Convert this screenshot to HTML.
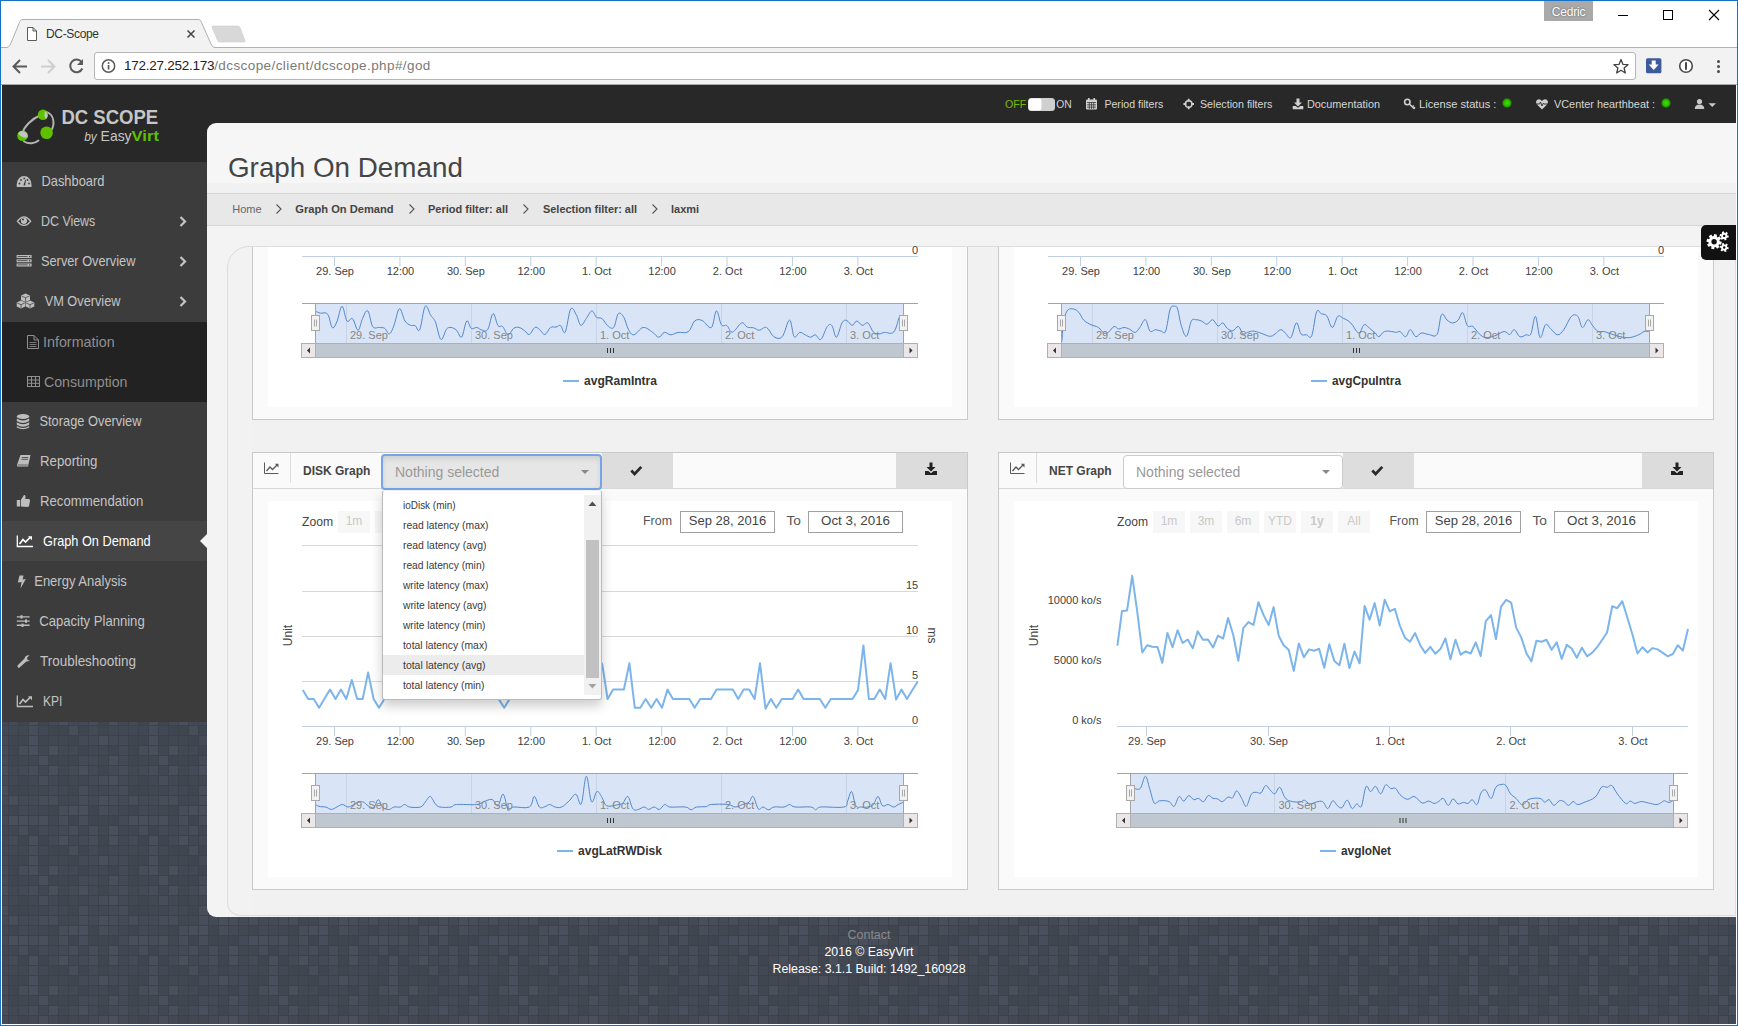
<!DOCTYPE html>
<html>
<head>
<meta charset="utf-8">
<title>DC-Scope</title>
<style>
*{box-sizing:border-box;margin:0;padding:0}
html,body{width:1738px;height:1026px;overflow:hidden;background:#fff;font-family:"Liberation Sans",sans-serif;}
body{position:relative}
.abs,.abs>*{position:absolute}
svg{position:absolute;overflow:visible}
/* ---------- browser chrome ---------- */
#toolbar{position:absolute;left:1px;top:48px;width:1736px;height:37px;background:#f2f2f2;border-bottom:1px solid #a9a9a9}
#tabline{position:absolute;left:1px;top:47px;width:1736px;height:1px;background:#b2b2b2}
#urlbox{position:absolute;left:94px;top:52px;width:1542px;height:28px;background:#fff;border:1px solid #b5b5b5;border-radius:3px}
#urltext{position:absolute;left:124px;top:57px;font-size:13.5px;line-height:18px;color:#222;white-space:nowrap;letter-spacing:-.26px}
#urltext span{color:#7a7a7a;letter-spacing:.41px}
#tabtitle{position:absolute;left:46px;top:26px;letter-spacing:-.33px;font-size:12px;line-height:16px;color:#333;white-space:nowrap}
#cedric{position:absolute;left:1544px;top:1px;width:49px;height:20px;background:#a9a9a9;color:#fff;font-size:12px;line-height:22px;letter-spacing:-.2px;text-align:center;text-shadow:0 0 2px #555}
/* ---------- page ---------- */
#page{position:absolute;left:2px;top:85px;width:1734px;height:939px;overflow:hidden;background:#434a56}
</style>
</head>
<body>
<!-- CHROME -->
<div id="tabline"></div>
<div id="toolbar"></div>
<div id="urlbox"></div>
<svg id="chromesvg" width="1738" height="90" style="left:0;top:0">
 <!-- tab -->
 <path d="M1 47.5 L6.5 47.5 C8.5 47.5 9.5 46 10.5 44 L19.5 22.5 C20 20.5 21 19.5 23 19.5 L198 19.5 C200 19.5 201 20.5 201.5 22.5 L211 44 C212 46 213 47.5 215 47.5 L215 48.5 L1 48.5 Z" fill="#f2f2f2" stroke="none"/>
 <path d="M1 47.5 L6.5 47.5 C8.5 47.5 9.5 46 10.5 44 L19.5 22.5 C20 20.5 21 19.5 23 19.5 L198 19.5 C200 19.5 201 20.5 201.5 22.5 L211 44 C212 46 213 47.5 215 47.5" fill="none" stroke="#b0b0b0" stroke-width="1"/>
 <!-- new tab -->
 <path d="M213 26 L238 26 Q239.5 26 240 27.5 L245 40.5 Q245.5 42 244 42 L219.500 42 Q218 42 217.500 40.500 L212 27.500 Q211.500 26 213 26 Z" fill="#d8d8d8" stroke="#cfcfcf" stroke-width=".6"/>
 <!-- page icon -->
 <path d="M27.5 27.5 L33 27.5 L36.500 31 L36.500 40.500 L27.500 40.500 Z M33 27.500 L33 31 L36.500 31" fill="#fff" stroke="#5a5a5a" stroke-width="1"/>
 <!-- tab close -->
 <path d="M187.500 30.500 L194.500 37.500 M194.500 30.500 L187.500 37.500" stroke="#444" stroke-width="1.500" fill="none"/>
 <!-- window controls -->
 <path d="M1618 15.500 L1628 15.500" stroke="#000" stroke-width="1"/>
 <rect x="1663.500" y="10.500" width="9" height="9" fill="none" stroke="#000" stroke-width="1"/>
 <path d="M1709 10 L1719 20 M1719 10 L1709 20" stroke="#000" stroke-width="1.100"/>
 <!-- back -->
 <path d="M27 66.500 L14 66.500 M20 60 L13.500 66.500 L20 73" stroke="#5a5a5a" stroke-width="2" fill="none"/>
 <!-- forward -->
 <path d="M41 66.500 L54 66.500 M48 60 L54.500 66.500 L48 73" stroke="#cfcfcf" stroke-width="2" fill="none"/>
 <!-- reload -->
 <path d="M81.500 62 A6.300 6.300 0 1 0 82.300 68.500" stroke="#5a5a5a" stroke-width="2" fill="none"/>
 <path d="M83 59 L83 65 L77 65 Z" fill="#5a5a5a"/>
 <!-- info -->
 <circle cx="108.500" cy="66" r="6.200" fill="none" stroke="#5a5a5a" stroke-width="1.500"/>
 <rect x="107.700" y="65" width="1.700" height="4.500" fill="#5a5a5a"/><rect x="107.700" y="62.200" width="1.700" height="1.700" fill="#5a5a5a"/>
 <!-- star -->
 <path d="M1621 59.500 L1622.900 64.300 L1628 64.700 L1624.100 68 L1625.300 73 L1621 70.300 L1616.700 73 L1617.900 68 L1614 64.700 L1619.100 64.300 Z" fill="none" stroke="#444" stroke-width="1.300" stroke-linejoin="round"/>
 <!-- download ext -->
 <rect x="1646" y="58.300" width="15.400" height="15" rx="1.500" fill="#3d5a9a"/>
 <path d="M1651.700 60.500 L1655.700 60.500 L1655.700 64.500 L1658.700 64.500 L1653.700 70 L1648.700 64.500 L1651.700 64.500 Z" fill="#fff"/>
 <!-- 1password-ish -->
 <circle cx="1686" cy="66" r="6.300" fill="#fff" stroke="#4a4a4a" stroke-width="1.600"/>
 <rect x="1685" y="62" width="2" height="8" rx="1" fill="#4a4a4a"/>
 <!-- menu dots -->
 <circle cx="1718.500" cy="61.500" r="1.500" fill="#4a4a4a"/><circle cx="1718.500" cy="66.500" r="1.500" fill="#4a4a4a"/><circle cx="1718.500" cy="71.500" r="1.500" fill="#4a4a4a"/>
</svg>
<div id="urltext">172.27.252.173<span>/dcscope/client/dcscope.php#/god</span></div>
<div id="tabtitle">DC-Scope</div>
<div id="cedric">Cedric</div>

<!-- PAGE -->
<div id="page"><svg width="1734" height="939" style="left:0;top:0"><defs><pattern id="tl" width="120" height="120" patternUnits="userSpaceOnUse" x="-4" y="-10"><rect width="120" height="120" fill="#3c424c"/><rect x="1" y="1" width="9" height="9" fill="#454b56"/><rect x="11" y="1" width="9" height="9" fill="#474d59"/><rect x="21" y="1" width="9" height="9" fill="#454b56"/><rect x="31" y="1" width="9" height="9" fill="#454b56"/><rect x="41" y="1" width="9" height="9" fill="#474d59"/><rect x="51" y="1" width="9" height="9" fill="#474d59"/><rect x="61" y="1" width="9" height="9" fill="#424852"/><rect x="71" y="1" width="9" height="9" fill="#424852"/><rect x="81" y="1" width="9" height="9" fill="#474d59"/><rect x="91" y="1" width="9" height="9" fill="#454b56"/><rect x="101" y="1" width="9" height="9" fill="#494f5b"/><rect x="111" y="1" width="9" height="9" fill="#474d59"/><rect x="1" y="11" width="9" height="9" fill="#424852"/><rect x="11" y="11" width="9" height="9" fill="#40464f"/><rect x="21" y="11" width="9" height="9" fill="#454b56"/><rect x="31" y="11" width="9" height="9" fill="#434954"/><rect x="41" y="11" width="9" height="9" fill="#424852"/><rect x="51" y="11" width="9" height="9" fill="#40464f"/><rect x="61" y="11" width="9" height="9" fill="#474d59"/><rect x="71" y="11" width="9" height="9" fill="#494f5b"/><rect x="81" y="11" width="9" height="9" fill="#494f5b"/><rect x="91" y="11" width="9" height="9" fill="#40464f"/><rect x="101" y="11" width="9" height="9" fill="#474d59"/><rect x="111" y="11" width="9" height="9" fill="#454b56"/><rect x="1" y="21" width="9" height="9" fill="#454b56"/><rect x="11" y="21" width="9" height="9" fill="#494f5b"/><rect x="21" y="21" width="9" height="9" fill="#494f5b"/><rect x="31" y="21" width="9" height="9" fill="#474d59"/><rect x="41" y="21" width="9" height="9" fill="#494f5b"/><rect x="51" y="21" width="9" height="9" fill="#424852"/><rect x="61" y="21" width="9" height="9" fill="#474d59"/><rect x="71" y="21" width="9" height="9" fill="#40464f"/><rect x="81" y="21" width="9" height="9" fill="#474d59"/><rect x="91" y="21" width="9" height="9" fill="#40464f"/><rect x="101" y="21" width="9" height="9" fill="#40464f"/><rect x="111" y="21" width="9" height="9" fill="#40464f"/><rect x="1" y="31" width="9" height="9" fill="#424852"/><rect x="11" y="31" width="9" height="9" fill="#424852"/><rect x="21" y="31" width="9" height="9" fill="#474d59"/><rect x="31" y="31" width="9" height="9" fill="#40464f"/><rect x="41" y="31" width="9" height="9" fill="#454b56"/><rect x="51" y="31" width="9" height="9" fill="#434954"/><rect x="61" y="31" width="9" height="9" fill="#454b56"/><rect x="71" y="31" width="9" height="9" fill="#474d59"/><rect x="81" y="31" width="9" height="9" fill="#424852"/><rect x="91" y="31" width="9" height="9" fill="#474d59"/><rect x="101" y="31" width="9" height="9" fill="#424852"/><rect x="111" y="31" width="9" height="9" fill="#494f5b"/><rect x="1" y="41" width="9" height="9" fill="#434954"/><rect x="11" y="41" width="9" height="9" fill="#454b56"/><rect x="21" y="41" width="9" height="9" fill="#40464f"/><rect x="31" y="41" width="9" height="9" fill="#494f5b"/><rect x="41" y="41" width="9" height="9" fill="#40464f"/><rect x="51" y="41" width="9" height="9" fill="#454b56"/><rect x="61" y="41" width="9" height="9" fill="#494f5b"/><rect x="71" y="41" width="9" height="9" fill="#434954"/><rect x="81" y="41" width="9" height="9" fill="#454b56"/><rect x="91" y="41" width="9" height="9" fill="#474d59"/><rect x="101" y="41" width="9" height="9" fill="#40464f"/><rect x="111" y="41" width="9" height="9" fill="#494f5b"/><rect x="1" y="51" width="9" height="9" fill="#434954"/><rect x="11" y="51" width="9" height="9" fill="#434954"/><rect x="21" y="51" width="9" height="9" fill="#424852"/><rect x="31" y="51" width="9" height="9" fill="#474d59"/><rect x="41" y="51" width="9" height="9" fill="#434954"/><rect x="51" y="51" width="9" height="9" fill="#40464f"/><rect x="61" y="51" width="9" height="9" fill="#40464f"/><rect x="71" y="51" width="9" height="9" fill="#474d59"/><rect x="81" y="51" width="9" height="9" fill="#40464f"/><rect x="91" y="51" width="9" height="9" fill="#454b56"/><rect x="101" y="51" width="9" height="9" fill="#40464f"/><rect x="111" y="51" width="9" height="9" fill="#434954"/><rect x="1" y="61" width="9" height="9" fill="#454b56"/><rect x="11" y="61" width="9" height="9" fill="#40464f"/><rect x="21" y="61" width="9" height="9" fill="#40464f"/><rect x="31" y="61" width="9" height="9" fill="#494f5b"/><rect x="41" y="61" width="9" height="9" fill="#40464f"/><rect x="51" y="61" width="9" height="9" fill="#424852"/><rect x="61" y="61" width="9" height="9" fill="#424852"/><rect x="71" y="61" width="9" height="9" fill="#40464f"/><rect x="81" y="61" width="9" height="9" fill="#454b56"/><rect x="91" y="61" width="9" height="9" fill="#454b56"/><rect x="101" y="61" width="9" height="9" fill="#494f5b"/><rect x="111" y="61" width="9" height="9" fill="#454b56"/><rect x="1" y="71" width="9" height="9" fill="#454b56"/><rect x="11" y="71" width="9" height="9" fill="#40464f"/><rect x="21" y="71" width="9" height="9" fill="#474d59"/><rect x="31" y="71" width="9" height="9" fill="#494f5b"/><rect x="41" y="71" width="9" height="9" fill="#424852"/><rect x="51" y="71" width="9" height="9" fill="#494f5b"/><rect x="61" y="71" width="9" height="9" fill="#434954"/><rect x="71" y="71" width="9" height="9" fill="#434954"/><rect x="81" y="71" width="9" height="9" fill="#40464f"/><rect x="91" y="71" width="9" height="9" fill="#434954"/><rect x="101" y="71" width="9" height="9" fill="#434954"/><rect x="111" y="71" width="9" height="9" fill="#40464f"/><rect x="1" y="81" width="9" height="9" fill="#454b56"/><rect x="11" y="81" width="9" height="9" fill="#40464f"/><rect x="21" y="81" width="9" height="9" fill="#424852"/><rect x="31" y="81" width="9" height="9" fill="#424852"/><rect x="41" y="81" width="9" height="9" fill="#494f5b"/><rect x="51" y="81" width="9" height="9" fill="#40464f"/><rect x="61" y="81" width="9" height="9" fill="#40464f"/><rect x="71" y="81" width="9" height="9" fill="#40464f"/><rect x="81" y="81" width="9" height="9" fill="#454b56"/><rect x="91" y="81" width="9" height="9" fill="#454b56"/><rect x="101" y="81" width="9" height="9" fill="#424852"/><rect x="111" y="81" width="9" height="9" fill="#494f5b"/><rect x="1" y="91" width="9" height="9" fill="#474d59"/><rect x="11" y="91" width="9" height="9" fill="#424852"/><rect x="21" y="91" width="9" height="9" fill="#454b56"/><rect x="31" y="91" width="9" height="9" fill="#474d59"/><rect x="41" y="91" width="9" height="9" fill="#424852"/><rect x="51" y="91" width="9" height="9" fill="#494f5b"/><rect x="61" y="91" width="9" height="9" fill="#424852"/><rect x="71" y="91" width="9" height="9" fill="#454b56"/><rect x="81" y="91" width="9" height="9" fill="#494f5b"/><rect x="91" y="91" width="9" height="9" fill="#454b56"/><rect x="101" y="91" width="9" height="9" fill="#40464f"/><rect x="111" y="91" width="9" height="9" fill="#454b56"/><rect x="1" y="101" width="9" height="9" fill="#454b56"/><rect x="11" y="101" width="9" height="9" fill="#424852"/><rect x="21" y="101" width="9" height="9" fill="#40464f"/><rect x="31" y="101" width="9" height="9" fill="#434954"/><rect x="41" y="101" width="9" height="9" fill="#474d59"/><rect x="51" y="101" width="9" height="9" fill="#434954"/><rect x="61" y="101" width="9" height="9" fill="#40464f"/><rect x="71" y="101" width="9" height="9" fill="#424852"/><rect x="81" y="101" width="9" height="9" fill="#424852"/><rect x="91" y="101" width="9" height="9" fill="#454b56"/><rect x="101" y="101" width="9" height="9" fill="#474d59"/><rect x="111" y="101" width="9" height="9" fill="#494f5b"/><rect x="1" y="111" width="9" height="9" fill="#474d59"/><rect x="11" y="111" width="9" height="9" fill="#40464f"/><rect x="21" y="111" width="9" height="9" fill="#40464f"/><rect x="31" y="111" width="9" height="9" fill="#424852"/><rect x="41" y="111" width="9" height="9" fill="#424852"/><rect x="51" y="111" width="9" height="9" fill="#454b56"/><rect x="61" y="111" width="9" height="9" fill="#434954"/><rect x="71" y="111" width="9" height="9" fill="#40464f"/><rect x="81" y="111" width="9" height="9" fill="#474d59"/><rect x="91" y="111" width="9" height="9" fill="#434954"/><rect x="101" y="111" width="9" height="9" fill="#434954"/><rect x="111" y="111" width="9" height="9" fill="#454b56"/></pattern></defs><rect width="1734" height="939" fill="url(#tl)"/></svg></div>
<div id="topbar" style="position:absolute;left:2px;top:85px;width:1734px;height:77px;background:#282828"></div>
<div id="sidebar" style="position:absolute;left:2px;top:162px;width:205px;height:560px;background:#3c3c3c"></div>
<div style="position:absolute;left:2px;top:322px;width:205px;height:80px;background:#222"></div>
<div style="position:absolute;left:2px;top:521px;width:205px;height:40px;background:#454545"></div>
<!--SIDEBAR-SVG-BEGIN-->
<svg width="210" height="650" style="left:0;top:85px" font-family="Liberation Sans, sans-serif">
<g transform="translate(0,-85)">
 <!-- logo icon -->
 <g fill="none" stroke="#b4b4b4" stroke-width="1.900" stroke-linecap="round">
  <path d="M41 115 C31 119 24 127 22.500 133"/>
  <path d="M47 112 C54 115 55 124 51.500 130"/>
  <path d="M24 141.500 C29 144.500 35 143.500 38.500 140.500"/>
 </g>
 <circle cx="43" cy="114.700" r="5.200" fill="#5fc000"/><path d="M45 111 A5.200 5.200 0 0 1 46 119 Q43.500 116 45 111Z" fill="#c4c4c4"/>
 <circle cx="46.600" cy="132.700" r="6.300" fill="#5fc000"/>
 <circle cx="22.500" cy="135.800" r="5.300" fill="#5fc000"/><path d="M18 133.500 A5.300 5.300 0 0 1 27.600 137.500 Q22 138.500 18 133.500Z" fill="#c4c4c4"/>
 <text x="61.400" y="124" font-size="21" font-weight="bold" fill="#c6c6c6" textLength="96.800" lengthAdjust="spacingAndGlyphs">DC SCOPE</text>
 <text x="84.200" y="140.600" font-size="12.500" font-style="italic" fill="#c6c6c6" textLength="12.600" lengthAdjust="spacingAndGlyphs">by</text>
 <text x="100.600" y="140.600" font-size="15" fill="#c6c6c6" textLength="31" lengthAdjust="spacingAndGlyphs">Easy</text>
 <text x="131.600" y="140.600" font-size="15" font-weight="bold" fill="#5fc000" textLength="27.300" lengthAdjust="spacingAndGlyphs">Virt</text>

 <!-- menu text -->
 <g font-size="14.500" fill="#c4c4c4" lengthAdjust="spacingAndGlyphs">
  <text x="41.500" y="186.300" textLength="62.900" lengthAdjust="spacingAndGlyphs">Dashboard</text>
  <text x="41" y="226.300" textLength="54.300" lengthAdjust="spacingAndGlyphs">DC Views</text>
  <text x="41" y="266.300" textLength="94.400" lengthAdjust="spacingAndGlyphs">Server Overview</text>
  <text x="44.700" y="306.300" textLength="75.800" lengthAdjust="spacingAndGlyphs">VM Overview</text>
  <text x="39.500" y="426.300" textLength="102" lengthAdjust="spacingAndGlyphs">Storage Overview</text>
  <text x="40" y="466.300" textLength="57.400" lengthAdjust="spacingAndGlyphs">Reporting</text>
  <text x="40" y="506.300" textLength="103.300" lengthAdjust="spacingAndGlyphs">Recommendation</text>
  <text x="43" y="546.300" textLength="107.600" lengthAdjust="spacingAndGlyphs" fill="#fff">Graph On Demand</text>
  <text x="34.200" y="586.300" textLength="92.700" lengthAdjust="spacingAndGlyphs">Energy Analysis</text>
  <text x="39.200" y="626.300" textLength="105.500" lengthAdjust="spacingAndGlyphs">Capacity Planning</text>
  <text x="40" y="666.300" textLength="96" lengthAdjust="spacingAndGlyphs">Troubleshooting</text>
  <text x="43" y="706.300" textLength="19.300" lengthAdjust="spacingAndGlyphs">KPI</text>
 </g>
 <g font-size="14.500" fill="#8f8f8f">
  <text x="43" y="346.800" textLength="71.600" lengthAdjust="spacingAndGlyphs">Information</text>
  <text x="44" y="386.800" textLength="83.500" lengthAdjust="spacingAndGlyphs">Consumption</text>
 </g>
 <!-- chevrons -->
 <g fill="none" stroke="#c4c4c4" stroke-width="2.200">
  <path d="M180.500 217 L185 221.500 L180.500 226"/>
  <path d="M180.500 257 L185 261.500 L180.500 266"/>
  <path d="M180.500 297 L185 301.500 L180.500 306"/>
 </g>
 <!-- active pointer -->
 <path d="M207 534 L200 541 L207 548 Z" fill="#f4f4f4"/>

 <!-- ICONS -->
 <g fill="#bdbdbd">
  <!-- dashboard -->
  <path d="M17 187 A7.500 7.500 0 0 1 31.500 187 Z M16.700 184.500 A7.400 8.500 0 0 1 31.500 184.500 L31.500 187 L16.700 187Z"/>
  <g fill="#3c3c3c"><circle cx="19.500" cy="183.500" r=".9"/><circle cx="21" cy="180" r=".9"/><circle cx="24.200" cy="178.400" r=".9"/><circle cx="27.500" cy="180" r=".9"/><circle cx="29" cy="183.500" r=".9"/><path d="M23.400 185.500 L25.300 179.500 L25.900 179.700 L25.200 185.500 Z"/></g>
  <!-- eye -->
  <path d="M16.600 221.200 Q24 211.500 31.500 221.200 Q24 231 16.600 221.200 Z M18.300 221.200 Q24 228.500 29.800 221.200 Q24 214 18.300 221.200Z" fill-rule="evenodd"/>
  <circle cx="24" cy="220.800" r="3.100"/><circle cx="23" cy="219.600" r="1" fill="#3c3c3c"/>
  <!-- server -->
  <path d="M16.600 255 h15 v3 h-15z M16.600 259.200 h15 v3 h-15z M16.600 263.400 h15 v3 h-15z"/>
  <g fill="#3c3c3c"><rect x="17.600" y="256.100" width="10" height=".8"/><rect x="17.600" y="260.300" width="10" height=".8"/><rect x="17.600" y="264.500" width="10" height=".8"/><circle cx="29.600" cy="256.500" r=".7"/><circle cx="29.600" cy="260.700" r=".7"/><circle cx="29.600" cy="264.900" r=".7"/></g>
  <!-- cubes -->
  <path d="M25.500 293.500 L30 295.500 L30 300 L25.500 302 L21 300 L21 295.500 Z"/>
  <path d="M21 300.500 L25.300 302.500 L25.300 306.500 L21 308.500 L16.700 306.500 L16.700 302.500 Z"/>
  <path d="M30 300.500 L34.300 302.500 L34.300 306.500 L30 308.500 L25.700 306.500 L25.700 302.500 Z"/>
  <g stroke="#3c3c3c" stroke-width=".7" fill="none"><path d="M21.500 296 L25.500 297.700 L29.500 296 M25.500 297.700 V301.500"/><path d="M17.200 303 L21 304.700 L24.800 303 M21 304.700 V308"/><path d="M26.200 303 L30 304.700 L33.800 303 M30 304.700 V308"/></g>
  <!-- storage -->
  <ellipse cx="23" cy="416.500" rx="6.200" ry="2.500"/>
  <path d="M16.800 418.500 Q23 422.500 29.200 418.500 V421 Q23 425 16.800 421Z M16.800 422.200 Q23 426.200 29.200 422.200 V424.700 Q23 428.700 16.800 424.700Z M16.800 425.900 Q23 429.900 29.200 425.900 V427.500 Q23 431 16.800 427.500Z"/>
  <!-- book -->
  <path d="M20.500 455 L30.500 455 L28 466.500 L18 466.500 Q16.500 466.500 17 465 Z"/>
  <path d="M21.800 457.500 h6.500 M21.400 459.300 h6.500" stroke="#3c3c3c" stroke-width=".8"/>
  <path d="M17.800 465 L27.800 465" stroke="#3c3c3c" stroke-width=".7"/>
  <!-- thumbs up -->
  <rect x="16.800" y="500" width="3.200" height="6.500"/>
  <path d="M20.800 500 L24 495 Q25.500 494.500 25.600 496.500 L25.300 499 L29 499 Q30.300 499.300 30 501 L29 506 Q28.500 507 27.500 507 L20.800 506.500 Z"/>
  <!-- energy bolt -->
  <path d="M19.500 575.500 L23.500 575.500 L22.700 579.500 L25.800 579 L20.500 588.500 L21.500 582 L17.800 582.500 Z"/>
  <!-- sliders -->
  <path d="M16.800 616.200 h12.800 v1.400 h-12.800z M16.800 620.400 h12.800 v1.400 h-12.800z M16.800 624.600 h12.800 v1.400 h-12.800z"/>
  <rect x="20.500" y="615.200" width="2" height="3.400"/><rect x="25" y="619.400" width="2" height="3.400"/><rect x="21.500" y="623.600" width="2" height="3.400"/>
  <!-- wrench -->
  <path d="M17.300 665.800 L24.500 658.500 A4 4 0 0 1 29.500 655.300 L27 657.800 L27.600 660 L29.800 660.500 L30.600 658 A4 4 0 0 1 26.300 661.500 L19.300 667.800 Q17.800 668.500 17.300 665.800 Z"/>
 </g>
 <!-- line chart icons -->
 <g fill="none" stroke="#bdbdbd" stroke-width="1.300">
  <path d="M17.300 695.500 V706.500 H33"/>
  <path d="M19.500 704 L23 699.500 L25.500 702 L30 697.500" stroke-width="1.700"/>
 </g>
 <path d="M28 696.300 L32 696.300 L32 700.300 Z" fill="#bdbdbd"/>
 <g fill="none" stroke="#fff" stroke-width="1.300">
  <path d="M17.300 535.500 V546.500 H33"/>
  <path d="M19.500 544 L23 539.500 L25.500 542 L30 537.500" stroke-width="1.700"/>
 </g>
 <path d="M28 536.300 L32 536.300 L32 540.300 Z" fill="#fff"/>
 <!-- submenu icons -->
 <g fill="none" stroke="#8f8f8f" stroke-width="1">
  <path d="M27.500 335.500 L34 335.500 L38.500 340 L38.500 348.500 L27.500 348.500 Z M34 335.500 V340 H38.500"/>
  <path d="M29.500 342.500 h7 M29.500 344.500 h7 M29.500 346.500 h7" stroke-width=".8"/>
  <rect x="27.500" y="376.500" width="12" height="10"/>
  <path d="M27.500 380 h12 M27.500 383.300 h12 M31.500 376.500 v10 M35.500 376.500 v10"/>
 </g>
</g>
</svg>
<!--SIDEBAR-SVG-END-->
<!--TOPNAV-BEGIN-->
<svg width="1738" height="40" style="left:0;top:85px" font-family="Liberation Sans, sans-serif">
<g transform="translate(0,-85)" font-size="11" fill="#d6d6d6">
 <text x="1005" y="108" fill="#7cb800" textLength="21.400" lengthAdjust="spacingAndGlyphs">OFF</text>
 <rect x="1028" y="98" width="27" height="13" rx="3.500" fill="#cfcfcf"/>
 <rect x="1028.500" y="98.500" width="13" height="12" rx="3" fill="#fff"/>
 <text x="1056.300" y="108" textLength="15.400" lengthAdjust="spacingAndGlyphs">ON</text>
 <!-- calendar -->
 <g fill="#d0d0d0">
  <rect x="1086" y="99.500" width="11" height="10" rx="1"/>
  <rect x="1088" y="98" width="1.600" height="3"/><rect x="1093.400" y="98" width="1.600" height="3"/>
 </g>
 <path d="M1087 102.500 h9 M1087 104.800 h9 M1087 107.100 h9 M1089.300 102.500 v6.500 M1091.500 102.500 v6.500 M1093.700 102.500 v6.500" stroke="#282828" stroke-width=".7"/>
 <text x="1104.400" y="108" textLength="58.900" lengthAdjust="spacingAndGlyphs">Period filters</text>
 <!-- crosshair -->
 <circle cx="1188.700" cy="104" r="3.300" fill="none" stroke="#d0d0d0" stroke-width="1.500"/>
 <path d="M1188.700 98.700 v3 M1188.700 106.300 v3 M1183.400 104 h3 M1191 104 h3" stroke="#d0d0d0" stroke-width="1.800"/>
 <text x="1200" y="108" textLength="72.400" lengthAdjust="spacingAndGlyphs">Selection filters</text>
 <!-- download -->
 <path d="M1296.500 98.500 h3 v4 h2.500 l-4 4 l-4 -4 h2.500 z" fill="#d0d0d0"/>
 <path d="M1292.700 106 h3 l2.300 1.800 l2.300 -1.800 h3 v3.200 h-10.600z" fill="#d0d0d0"/>
 <text x="1307" y="108" textLength="73" lengthAdjust="spacingAndGlyphs">Documentation</text>
 <!-- key -->
 <circle cx="1407.300" cy="102" r="2.700" fill="none" stroke="#d0d0d0" stroke-width="1.600"/>
 <path d="M1409.300 104 L1414.500 109 M1412.300 107 l1.500 -1.500 M1413.800 108.500 l1.300 -1.300" stroke="#d0d0d0" stroke-width="1.500" fill="none"/>
 <text x="1419" y="108" textLength="77.400" lengthAdjust="spacingAndGlyphs">License status :</text>
 <!-- heartbeat -->
 <path d="M1542 109.500 L1537 104.500 Q1535 101.500 1537.300 99.800 Q1540 98.500 1542 101 Q1544 98.500 1546.700 99.800 Q1549 101.500 1547 104.500 Z" fill="#d0d0d0"/>
 <path d="M1536.500 104 h3 l1 -2 l1.500 4 l1.200 -2.700 l.8 .7 h3.500" stroke="#282828" stroke-width=".9" fill="none"/>
 <text x="1554" y="108" textLength="101" lengthAdjust="spacingAndGlyphs">VCenter hearthbeat :</text>
 <!-- user -->
 <circle cx="1699.500" cy="101.500" r="2.600" fill="#c8c8c8"/>
 <path d="M1694.800 109 Q1694.800 104.500 1699.500 104.500 Q1704.300 104.500 1704.300 109 Z" fill="#c8c8c8"/>
 <path d="M1708.500 103.200 h7.500 l-3.750 3.800z" fill="#c8c8c8"/>
</g>
<defs><radialGradient id="led"><stop offset="0" stop-color="#3fe000"/><stop offset=".55" stop-color="#2fc400"/><stop offset="1" stop-color="#1c7a00"/></radialGradient></defs>
<circle cx="1507" cy="18" r="4.700" fill="url(#led)"/>
<circle cx="1666" cy="18" r="4.700" fill="url(#led)"/>
</svg>
<!--TOPNAV-END-->
<div id="content" style="position:absolute;left:207px;top:123px;width:1529px;height:794px;background:linear-gradient(#f6f6f6 0,#f6f6f6 60px,#f3f3f3 61px);border-radius:9px 0 0 9px;overflow:hidden">
<!--CONTENT-->
</div>
<!--OVERLAYS-BEGIN-->
<div style="position:absolute;left:207px;top:183px;width:1529px;height:10px;background:#f1f1f1"></div>
<div style="position:absolute;left:228px;top:150px;font-size:27.8px;line-height:36px;color:#454545;white-space:nowrap">Graph On Demand</div>
<div style="position:absolute;left:207px;top:193px;width:1529px;height:33px;background:#e8e8e8;border-top:1px solid #d4d4d4;border-bottom:1px solid #d4d4d4"></div>
<svg width="1738" height="30" style="left:0;top:195px" font-family="Liberation Sans, sans-serif"><g font-size="11" fill="#444"><text x="232.3" y="17.8" font-size="11" fill="#666" >Home</text><text x="295.3" y="17.8" font-size="11" fill="#444" textLength="98.3" lengthAdjust="spacingAndGlyphs" font-weight="bold" >Graph On Demand</text><text x="428" y="17.8" font-size="11" fill="#444" textLength="80" lengthAdjust="spacingAndGlyphs" font-weight="bold" >Period filter: all</text><text x="543" y="17.8" font-size="11" fill="#444" textLength="94" lengthAdjust="spacingAndGlyphs" font-weight="bold" >Selection filter: all</text><text x="671" y="17.8" font-size="11" fill="#444" textLength="28" lengthAdjust="spacingAndGlyphs" font-weight="bold" >laxmi</text></g><g fill="none" stroke="#555" stroke-width="1.1"><path d="M276.5 9.500 l4.500 4.500 l-4.500 4.500"/><path d="M409.5 9.500 l4.500 4.500 l-4.500 4.500"/><path d="M523.5 9.500 l4.500 4.500 l-4.500 4.500"/><path d="M652.5 9.500 l4.500 4.500 l-4.500 4.500"/></g></svg>
<div style="position:absolute;left:227px;top:246px;width:1509px;height:670px;border-right:none;border:1px solid #dcdcdc;border-radius:22px 0 0 13px;background:linear-gradient(to right,#f2f2f2 0,#f2f2f2 23px,#f1f1f1 25px)"></div>
<div style="position:absolute;left:252px;top:247px;width:716px;height:173px;background:#fafafa;border:1px solid #c9c9c9;border-top:none;"></div>
<div style="position:absolute;left:998px;top:247px;width:716px;height:173px;background:#fafafa;border:1px solid #c9c9c9;border-top:none;"></div>
<div style="position:absolute;left:252px;top:452px;width:716px;height:438px;background:#fafafa;border:1px solid #c9c9c9;"></div>
<div style="position:absolute;left:998px;top:452px;width:716px;height:438px;background:#fafafa;border:1px solid #c9c9c9;"></div>
<div style="position:absolute;left:268px;top:247px;width:684px;height:160px;background:#fff"></div>
<div style="position:absolute;left:1014px;top:247px;width:684px;height:160px;background:#fff"></div>
<div style="position:absolute;left:268px;top:501px;width:684px;height:376px;background:#fff"></div>
<div style="position:absolute;left:1014px;top:501px;width:684px;height:376px;background:#fff"></div>
<div style="position:absolute;left:253px;top:488px;width:714px;height:1px;background:#d9d9d9"></div>
<div style="position:absolute;left:290px;top:453px;width:1px;height:30px;background:#dcdcdc"></div>
<div style="position:absolute;left:602px;top:453px;width:71px;height:35px;background:#dddddd"></div>
<div style="position:absolute;left:896px;top:453px;width:71px;height:35px;background:#dcdcdc"></div>
<div style="position:absolute;left:381.3px;top:454.400px;width:221.200px;height:35.200px;background:#e6e6e6;border:2px solid #76a4e6;border-radius:4px;box-shadow:inset 0 3px 5px rgba(0,0,0,.1)"></div>
<div style="position:absolute;left:395px;top:463px;font-size:14px;line-height:18px;color:#999;white-space:nowrap">Nothing selected</div>
<div style="position:absolute;left:303px;top:463px;font-size:12px;line-height:16px;font-weight:bold;color:#454545;white-space:nowrap">DISK Graph</div>
<svg width="720" height="40" style="left:252px;top:452px"><path d="M12.500 10.500 V21.500 H26.500" fill="none" stroke="#5a5a5a" stroke-width="1"/><path d="M14.500 19 L18 15 L20.500 17.500 L25 13" fill="none" stroke="#5a5a5a" stroke-width="1.300"/><path d="M22.800 11.800 h3.700 v3.700z" fill="#5a5a5a"/><path d="M329 18 h8 l-4 4z" fill="#888"/><path d="M379.3 18.500 l3.300 3.500 l6.700 -7.200" fill="none" stroke="#2a2a2a" stroke-width="2.700"/><path d="M677.500 10.500 h3 v4.500 h3 l-4.500 4.500 l-4.500 -4.500 h3z" fill="#222"/><path d="M673 19 h3.300 l2.700 2.300 l2.700 -2.300 h3.300 v4 h-12z" fill="#222"/></svg>
<div style="position:absolute;left:999px;top:488px;width:714px;height:1px;background:#d9d9d9"></div>
<div style="position:absolute;left:1036px;top:453px;width:1px;height:30px;background:#dcdcdc"></div>
<div style="position:absolute;left:1343px;top:453px;width:71px;height:35px;background:#dddddd"></div>
<div style="position:absolute;left:1642px;top:453px;width:71px;height:35px;background:#dcdcdc"></div>
<div style="position:absolute;left:1123px;top:455px;width:220px;height:34px;background:#fff;border:1px solid #ccc;border-radius:4px"></div>
<div style="position:absolute;left:1136px;top:463px;font-size:14px;line-height:18px;color:#999;white-space:nowrap">Nothing selected</div>
<div style="position:absolute;left:1049px;top:463px;font-size:12px;line-height:16px;font-weight:bold;color:#454545;white-space:nowrap">NET Graph</div>
<svg width="720" height="40" style="left:998px;top:452px"><path d="M12.500 10.500 V21.500 H26.500" fill="none" stroke="#5a5a5a" stroke-width="1"/><path d="M14.500 19 L18 15 L20.500 17.500 L25 13" fill="none" stroke="#5a5a5a" stroke-width="1.300"/><path d="M22.800 11.800 h3.700 v3.700z" fill="#5a5a5a"/><path d="M324 18 h8 l-4 4z" fill="#888"/><path d="M374.3 18.500 l3.300 3.500 l6.700 -7.200" fill="none" stroke="#2a2a2a" stroke-width="2.700"/><path d="M677.500 10.500 h3 v4.500 h3 l-4.500 4.500 l-4.500 -4.500 h3z" fill="#222"/><path d="M673 19 h3.300 l2.700 2.300 l2.700 -2.300 h3.300 v4 h-12z" fill="#222"/></svg>
<svg width="1738" height="1026" style="left:0;top:0" font-family="Liberation Sans, sans-serif">
<path d="M302 256.5 H918" stroke="#c0d0e0" stroke-width="1"/>
<path d="M334.5 256 v10" stroke="#c0d0e0" stroke-width="1"/>
<text x="335.0" y="274.5" font-size="11" fill="#414141" text-anchor="middle" >29. Sep</text>
<path d="M399.92 256 v10" stroke="#c0d0e0" stroke-width="1"/>
<text x="400.42" y="274.5" font-size="11" fill="#414141" text-anchor="middle" >12:00</text>
<path d="M465.34000000000003 256 v10" stroke="#c0d0e0" stroke-width="1"/>
<text x="465.84000000000003" y="274.5" font-size="11" fill="#414141" text-anchor="middle" >30. Sep</text>
<path d="M530.76 256 v10" stroke="#c0d0e0" stroke-width="1"/>
<text x="531.26" y="274.5" font-size="11" fill="#414141" text-anchor="middle" >12:00</text>
<path d="M596.1800000000001 256 v10" stroke="#c0d0e0" stroke-width="1"/>
<text x="596.6800000000001" y="274.5" font-size="11" fill="#414141" text-anchor="middle" >1. Oct</text>
<path d="M661.6 256 v10" stroke="#c0d0e0" stroke-width="1"/>
<text x="662.1" y="274.5" font-size="11" fill="#414141" text-anchor="middle" >12:00</text>
<path d="M727.02 256 v10" stroke="#c0d0e0" stroke-width="1"/>
<text x="727.52" y="274.5" font-size="11" fill="#414141" text-anchor="middle" >2. Oct</text>
<path d="M792.44 256 v10" stroke="#c0d0e0" stroke-width="1"/>
<text x="792.94" y="274.5" font-size="11" fill="#414141" text-anchor="middle" >12:00</text>
<path d="M857.86 256 v10" stroke="#c0d0e0" stroke-width="1"/>
<text x="858.36" y="274.5" font-size="11" fill="#414141" text-anchor="middle" >3. Oct</text>
<text x="918.2" y="254" font-size="11" fill="#414141" text-anchor="end" >0</text>
<rect x="315" y="303" width="588" height="40" fill="#d9e5f6"/>
<path d="M346.5 304 V343" stroke="#c8d4e6" stroke-width="1"/>
<path d="M471.5 304 V343" stroke="#c8d4e6" stroke-width="1"/>
<path d="M596.5 304 V343" stroke="#c8d4e6" stroke-width="1"/>
<path d="M721.5 304 V343" stroke="#c8d4e6" stroke-width="1"/>
<path d="M846.5 304 V343" stroke="#c8d4e6" stroke-width="1"/>
<path d="M315.7 311.3 C316.5 311.6 318.1 312.6 320.3 313.1 C322.4 313.6 325.5 311.6 327.6 314.2 C329.8 316.8 330.6 326.1 332.2 327.5 C333.9 328.9 335.1 325.8 336.8 321.9 C338.6 318.1 340.2 306.5 342.0 306.3 C343.8 306.1 345.1 318.8 347.0 321.0 C348.9 323.2 350.5 317.0 352.5 318.6 C354.5 320.3 356.2 330.3 358.0 330.2 C359.8 330.2 360.9 321.7 362.6 318.3 C364.4 314.8 365.9 309.4 367.8 310.9 C369.6 312.4 370.7 323.6 372.7 326.5 C374.8 329.5 377.0 327.1 379.2 327.5 C381.3 327.8 382.9 327.2 384.7 328.4 C386.5 329.5 387.7 334.4 389.3 333.9 C391.0 333.4 392.1 330.2 393.9 325.6 C395.7 321.1 397.5 309.5 399.4 308.7 C401.4 307.9 403.0 318.0 405.0 321.0 C407.0 324.0 408.7 324.4 410.5 325.3 C412.3 326.1 413.4 324.8 415.1 325.6 C416.8 326.4 417.9 333.2 419.7 329.7 C421.5 326.2 423.2 308.8 425.2 306.3 C427.2 303.7 428.9 312.7 430.8 315.5 C432.6 318.3 433.5 317.6 435.4 321.9 C437.2 326.3 438.9 338.1 440.9 339.4 C442.9 340.8 444.6 331.5 446.4 329.3 C448.2 327.2 449.2 327.3 451.0 327.5 C452.8 327.6 454.6 328.5 456.5 330.2 C458.5 332.0 459.9 338.7 461.7 337.0 C463.5 335.4 464.9 322.6 466.7 321.0 C468.4 319.5 469.4 327.2 471.3 328.4 C473.1 329.5 474.8 327.1 476.8 327.5 C478.8 327.8 480.3 329.9 482.3 330.2 C484.3 330.6 485.9 332.3 487.8 329.3 C489.8 326.3 491.2 314.3 493.0 313.7 C494.8 313.0 496.3 323.3 498.0 325.6 C499.7 327.9 500.8 324.9 502.6 326.5 C504.4 328.2 506.1 334.5 508.1 334.8 C510.1 335.2 511.6 329.7 513.6 328.4 C515.6 327.1 517.2 327.0 519.2 327.5 C521.1 327.9 522.9 329.5 524.7 330.8 C526.5 332.0 527.5 335.1 529.3 334.5 C531.1 333.9 533.0 328.4 534.8 327.5 C536.6 326.5 537.6 328.0 539.4 329.3 C541.2 330.6 542.9 334.8 544.9 334.5 C546.9 334.1 548.5 328.8 550.5 327.5 C552.4 326.1 554.2 327.4 556.0 327.1 C557.8 326.8 558.9 324.7 560.6 325.6 C562.2 326.5 563.4 335.1 565.2 332.1 C567.0 329.1 568.7 312.2 570.7 309.0 C572.7 305.9 574.4 311.7 576.2 314.6 C578.1 317.5 579.0 324.6 580.8 325.3 C582.7 325.9 584.4 320.8 586.4 318.3 C588.4 315.7 590.1 311.1 591.9 310.9 C593.7 310.7 594.7 315.9 596.5 317.3 C598.3 318.7 600.0 317.1 602.0 318.6 C604.0 320.1 605.5 324.0 607.6 325.6 C609.6 327.2 611.8 329.6 613.7 327.5 C615.6 325.3 616.5 315.5 618.3 313.7 C620.1 311.8 622.0 314.5 623.8 317.3 C625.6 320.2 626.6 326.2 628.4 329.3 C630.2 332.5 631.3 335.2 633.9 334.8 C636.6 334.5 639.8 328.0 643.1 327.5 C646.5 327.0 649.5 330.3 652.4 332.1 C655.2 333.8 656.6 337.2 658.8 337.2 C661.0 337.3 662.2 332.9 664.3 332.4 C666.5 332.0 668.3 334.8 670.8 334.8 C673.3 334.8 675.0 333.0 678.1 332.4 C681.3 331.9 685.3 333.8 688.3 331.7 C691.3 329.6 692.2 323.0 694.7 321.0 C697.2 319.0 699.1 319.3 702.1 320.5 C705.1 321.6 708.7 329.2 711.3 327.5 C713.9 325.7 714.6 311.4 716.4 310.9 C718.3 310.4 719.5 322.1 721.4 324.7 C723.3 327.4 725.0 324.3 726.9 325.6 C728.9 327.0 729.8 332.6 732.5 332.1 C735.1 331.6 739.0 323.8 741.7 322.9 C744.3 322.0 745.0 326.2 747.2 327.1 C749.4 328.0 751.5 327.3 753.6 327.8 C755.8 328.4 756.9 330.3 759.2 330.2 C761.5 330.2 763.9 326.3 766.5 327.5 C769.2 328.6 771.1 335.0 773.9 336.7 C776.7 338.3 779.4 339.7 782.2 336.7 C785.0 333.7 787.4 320.1 789.6 320.1 C791.7 320.1 792.3 334.5 794.2 336.7 C796.0 338.9 797.7 332.8 799.7 332.4 C801.7 332.1 803.2 334.0 805.2 334.8 C807.2 335.7 808.9 337.2 810.7 337.2 C812.6 337.2 813.5 334.4 815.3 334.8 C817.2 335.2 818.7 340.9 820.9 339.4 C823.0 337.9 825.3 329.0 827.3 326.5 C829.3 324.1 830.3 323.7 831.9 325.6 C833.6 327.5 834.7 337.7 836.5 337.2 C838.3 336.7 840.2 325.9 842.0 322.9 C843.9 319.8 844.8 320.0 846.6 320.5 C848.5 320.9 850.3 325.2 852.2 325.3 C854.0 325.4 855.0 321.0 856.8 321.0 C858.6 321.0 860.3 324.9 862.3 325.3 C864.3 325.6 865.8 321.6 867.8 322.9 C869.8 324.1 871.4 330.1 873.4 332.1 C875.3 334.1 876.9 333.8 878.9 333.9 C880.9 334.0 881.7 332.8 884.4 332.4 C887.1 332.1 891.0 334.8 893.6 332.1 C896.3 329.4 898.1 320.0 899.1 317.3" fill="none" stroke="#4f86cf" stroke-width="1"/>
<text x="350" y="338.5" font-size="11" fill="#858585" >29. Sep</text>
<text x="475" y="338.5" font-size="11" fill="#858585" >30. Sep</text>
<text x="600" y="338.5" font-size="11" fill="#858585" >1. Oct</text>
<text x="725" y="338.5" font-size="11" fill="#858585" >2. Oct</text>
<text x="850" y="338.5" font-size="11" fill="#858585" >3. Oct</text>
<path d="M302 303.5 H918 M315.5 303.5 V343 M903.5 303.5 V343" stroke="#a3a3a3" stroke-width="1" fill="none"/>
<rect x="301.5" y="343.5" width="616" height="14" fill="#bfc8d1" stroke="#b0b0b0" stroke-width="1"/>
<rect x="301.5" y="343.5" width="14" height="14" fill="#ebe7e8" stroke="#b0b0b0" stroke-width="1"/>
<rect x="903.5" y="343.5" width="14" height="14" fill="#ebe7e8" stroke="#b0b0b0" stroke-width="1"/>
<path d="M307 350.5 l3 -3 v6z" fill="#333"/>
<path d="M912.5 350.5 l-3 -3 v6z" fill="#333"/>
<path d="M607.5 348 v5 M610.5 348 v5 M613.5 348 v5" stroke="#333" stroke-width="1"/>
<rect x="311.5" y="315.5" width="8" height="15" fill="#f2f2f2" stroke="#a8a8a8" stroke-width="1"/>
<path d="M314.5 319.5 v7 M316.5 319.5 v7" stroke="#a8a8a8" stroke-width="1"/>
<rect x="899.5" y="315.5" width="8" height="15" fill="#f2f2f2" stroke="#a8a8a8" stroke-width="1"/>
<path d="M902.5 319.5 v7 M904.5 319.5 v7" stroke="#a8a8a8" stroke-width="1"/>
<path d="M563 381 h16" stroke="#7cb5ec" stroke-width="2"/><text x="584" y="385.3" font-size="12" fill="#333" textLength="73" lengthAdjust="spacingAndGlyphs" font-weight="bold" >avgRamIntra</text>
<path d="M1048 256.5 H1664" stroke="#c0d0e0" stroke-width="1"/>
<path d="M1080.5 256 v10" stroke="#c0d0e0" stroke-width="1"/>
<text x="1081.0" y="274.5" font-size="11" fill="#414141" text-anchor="middle" >29. Sep</text>
<path d="M1145.92 256 v10" stroke="#c0d0e0" stroke-width="1"/>
<text x="1146.42" y="274.5" font-size="11" fill="#414141" text-anchor="middle" >12:00</text>
<path d="M1211.34 256 v10" stroke="#c0d0e0" stroke-width="1"/>
<text x="1211.84" y="274.5" font-size="11" fill="#414141" text-anchor="middle" >30. Sep</text>
<path d="M1276.76 256 v10" stroke="#c0d0e0" stroke-width="1"/>
<text x="1277.26" y="274.5" font-size="11" fill="#414141" text-anchor="middle" >12:00</text>
<path d="M1342.18 256 v10" stroke="#c0d0e0" stroke-width="1"/>
<text x="1342.68" y="274.5" font-size="11" fill="#414141" text-anchor="middle" >1. Oct</text>
<path d="M1407.6 256 v10" stroke="#c0d0e0" stroke-width="1"/>
<text x="1408.1" y="274.5" font-size="11" fill="#414141" text-anchor="middle" >12:00</text>
<path d="M1473.02 256 v10" stroke="#c0d0e0" stroke-width="1"/>
<text x="1473.52" y="274.5" font-size="11" fill="#414141" text-anchor="middle" >2. Oct</text>
<path d="M1538.44 256 v10" stroke="#c0d0e0" stroke-width="1"/>
<text x="1538.94" y="274.5" font-size="11" fill="#414141" text-anchor="middle" >12:00</text>
<path d="M1603.8600000000001 256 v10" stroke="#c0d0e0" stroke-width="1"/>
<text x="1604.3600000000001" y="274.5" font-size="11" fill="#414141" text-anchor="middle" >3. Oct</text>
<text x="1664.2" y="254" font-size="11" fill="#414141" text-anchor="end" >0</text>
<rect x="1061" y="303" width="588" height="40" fill="#d9e5f6"/>
<path d="M1092.5 304 V343" stroke="#c8d4e6" stroke-width="1"/>
<path d="M1217.5 304 V343" stroke="#c8d4e6" stroke-width="1"/>
<path d="M1342.5 304 V343" stroke="#c8d4e6" stroke-width="1"/>
<path d="M1467.5 304 V343" stroke="#c8d4e6" stroke-width="1"/>
<path d="M1592.5 304 V343" stroke="#c8d4e6" stroke-width="1"/>
<path d="M1061.9 341.3 C1062.2 338.1 1062.5 329.3 1063.4 323.8 C1064.3 318.3 1065.3 313.5 1067.1 310.9 C1068.9 308.2 1071.4 308.7 1073.5 309.0 C1075.7 309.4 1077.2 310.7 1079.1 312.7 C1080.9 314.7 1081.5 317.9 1083.7 320.1 C1085.8 322.3 1088.4 323.4 1091.0 324.7 C1093.7 326.0 1096.1 326.0 1098.4 327.5 C1100.7 329.0 1102.1 332.2 1103.9 333.0 C1105.8 333.8 1106.7 333.2 1108.5 332.1 C1110.4 330.9 1112.2 327.1 1114.1 326.5 C1115.9 326.0 1116.8 328.8 1118.7 328.9 C1120.5 329.1 1122.2 327.4 1124.2 327.5 C1126.2 327.5 1127.7 328.4 1129.7 329.3 C1131.7 330.2 1133.4 332.8 1135.2 332.4 C1137.1 332.1 1138.0 329.8 1139.8 327.5 C1141.7 325.2 1143.5 319.1 1145.4 319.7 C1147.2 320.4 1148.1 329.4 1150.0 331.1 C1151.8 332.9 1153.5 329.7 1155.5 329.7 C1157.5 329.7 1159.2 330.9 1161.0 331.1 C1162.8 331.4 1164.0 335.1 1165.6 331.1 C1167.3 327.2 1168.6 313.5 1170.2 309.0 C1171.9 304.6 1173.5 306.3 1174.8 306.3 C1176.2 306.3 1176.4 305.6 1177.6 309.0 C1178.8 312.5 1179.7 320.7 1181.3 325.6 C1182.9 330.5 1184.6 337.1 1186.4 336.3 C1188.3 335.5 1189.7 324.0 1191.4 321.0 C1193.1 318.0 1194.2 319.7 1196.0 319.7 C1197.8 319.7 1199.5 320.2 1201.5 321.0 C1203.5 321.8 1205.1 324.4 1207.1 324.2 C1209.1 323.9 1210.6 319.4 1212.6 319.7 C1214.6 320.1 1216.3 325.4 1218.1 326.0 C1219.9 326.6 1221.1 322.4 1222.7 322.9 C1224.4 323.3 1225.5 327.0 1227.3 328.4 C1229.1 329.8 1230.9 331.1 1232.8 330.8 C1234.8 330.4 1236.5 326.0 1238.4 326.5 C1240.2 327.1 1241.3 332.9 1243.0 333.9 C1244.6 335.0 1245.8 332.9 1247.6 332.4 C1249.4 331.9 1250.8 331.0 1253.1 331.1 C1255.4 331.2 1257.5 332.1 1260.5 333.0 C1263.5 333.9 1267.0 336.1 1269.7 336.3 C1272.3 336.5 1273.2 335.1 1275.2 333.9 C1277.2 332.7 1278.9 329.8 1280.7 329.7 C1282.6 329.5 1283.5 331.6 1285.3 333.0 C1287.2 334.4 1288.9 339.4 1290.9 337.6 C1292.8 335.8 1294.6 323.5 1296.4 322.9 C1298.2 322.2 1299.2 331.8 1301.0 333.9 C1302.8 336.1 1304.6 334.5 1306.5 334.8 C1308.4 335.2 1309.8 339.9 1311.7 335.8 C1313.5 331.6 1314.9 315.8 1316.6 311.8 C1318.4 307.8 1319.4 312.9 1321.2 313.7 C1323.1 314.4 1324.8 313.6 1326.8 316.0 C1328.8 318.5 1330.3 327.4 1332.3 327.5 C1334.3 327.5 1335.8 318.1 1337.8 316.4 C1339.8 314.8 1341.0 317.1 1343.3 318.3 C1345.7 319.4 1347.9 320.2 1350.7 322.9 C1353.5 325.5 1356.3 332.7 1358.7 333.0 C1361.1 333.3 1362.1 325.4 1364.2 324.7 C1366.4 324.0 1368.7 327.8 1370.7 329.3 C1372.6 330.8 1373.8 331.7 1375.3 333.0 C1376.7 334.3 1377.3 336.9 1378.9 336.7 C1380.6 336.4 1382.1 332.4 1384.5 331.5 C1386.8 330.6 1389.7 331.4 1391.8 331.5 C1394.0 331.7 1394.9 332.4 1396.4 332.4 C1397.9 332.4 1398.5 330.8 1400.1 331.5 C1401.8 332.3 1403.8 337.0 1405.6 336.7 C1407.5 336.3 1408.4 329.7 1410.2 329.7 C1412.1 329.7 1413.8 336.1 1415.8 336.7 C1417.8 337.3 1419.0 333.4 1421.3 333.0 C1423.6 332.6 1425.8 334.2 1428.7 334.5 C1431.5 334.7 1434.6 338.0 1437.0 334.5 C1439.3 330.9 1439.7 317.2 1441.6 314.6 C1443.4 312.0 1445.1 318.6 1447.1 320.1 C1449.1 321.6 1450.6 322.9 1452.6 322.9 C1454.6 322.9 1456.3 321.9 1458.1 320.1 C1460.0 318.3 1461.1 311.7 1462.7 312.7 C1464.4 313.7 1465.5 323.1 1467.3 325.6 C1469.2 328.1 1470.7 325.1 1472.9 326.5 C1475.0 328.0 1477.0 331.9 1479.3 333.9 C1481.6 335.9 1482.9 337.3 1485.8 337.6 C1488.6 337.9 1491.6 336.8 1495.0 335.8 C1498.3 334.7 1501.5 331.7 1504.2 331.5 C1506.8 331.3 1507.9 334.8 1509.7 334.5 C1511.5 334.1 1512.5 329.3 1514.3 329.7 C1516.1 330.1 1517.7 335.7 1519.8 336.7 C1522.0 337.6 1524.3 335.3 1526.3 334.8 C1528.3 334.3 1529.2 337.2 1530.9 333.9 C1532.5 330.6 1533.8 315.8 1535.5 316.4 C1537.1 317.1 1538.3 336.1 1540.1 337.6 C1541.9 339.1 1543.6 326.2 1545.6 324.7 C1547.6 323.2 1549.0 327.5 1551.1 329.3 C1553.3 331.1 1555.3 334.8 1557.6 334.8 C1559.9 334.8 1561.5 332.6 1564.0 329.3 C1566.5 326.0 1568.9 318.7 1571.4 316.4 C1573.9 314.1 1575.8 314.4 1577.8 316.4 C1579.8 318.4 1580.6 326.9 1582.4 327.5 C1584.3 328.1 1586.1 320.1 1588.0 319.7 C1589.8 319.4 1590.7 323.5 1592.6 325.6 C1594.4 327.7 1596.1 330.5 1598.1 331.5 C1600.1 332.6 1601.3 331.1 1603.6 331.5 C1605.9 331.9 1608.0 333.0 1611.0 333.9 C1614.0 334.8 1616.9 336.0 1620.2 336.7 C1623.5 337.3 1626.1 337.9 1629.4 337.6 C1632.7 337.3 1636.0 335.9 1638.6 334.8 C1641.3 333.7 1642.2 332.1 1644.1 331.5 C1646.1 330.9 1648.4 331.5 1649.3 331.5" fill="none" stroke="#4f86cf" stroke-width="1"/>
<text x="1096" y="338.5" font-size="11" fill="#858585" >29. Sep</text>
<text x="1221" y="338.5" font-size="11" fill="#858585" >30. Sep</text>
<text x="1346" y="338.5" font-size="11" fill="#858585" >1. Oct</text>
<text x="1471" y="338.5" font-size="11" fill="#858585" >2. Oct</text>
<text x="1596" y="338.5" font-size="11" fill="#858585" >3. Oct</text>
<path d="M1048 303.5 H1664 M1061.5 303.5 V343 M1649.5 303.5 V343" stroke="#a3a3a3" stroke-width="1" fill="none"/>
<rect x="1047.5" y="343.5" width="616" height="14" fill="#bfc8d1" stroke="#b0b0b0" stroke-width="1"/>
<rect x="1047.5" y="343.5" width="14" height="14" fill="#ebe7e8" stroke="#b0b0b0" stroke-width="1"/>
<rect x="1649.5" y="343.5" width="14" height="14" fill="#ebe7e8" stroke="#b0b0b0" stroke-width="1"/>
<path d="M1053 350.5 l3 -3 v6z" fill="#333"/>
<path d="M1658.5 350.5 l-3 -3 v6z" fill="#333"/>
<path d="M1353.5 348 v5 M1356.5 348 v5 M1359.5 348 v5" stroke="#333" stroke-width="1"/>
<rect x="1057.5" y="315.5" width="8" height="15" fill="#f2f2f2" stroke="#a8a8a8" stroke-width="1"/>
<path d="M1060.5 319.5 v7 M1062.5 319.5 v7" stroke="#a8a8a8" stroke-width="1"/>
<rect x="1645.5" y="315.5" width="8" height="15" fill="#f2f2f2" stroke="#a8a8a8" stroke-width="1"/>
<path d="M1648.5 319.5 v7 M1650.5 319.5 v7" stroke="#a8a8a8" stroke-width="1"/>
<path d="M1311 381 h16" stroke="#7cb5ec" stroke-width="2"/><text x="1332" y="385.3" font-size="12" fill="#333" textLength="69" lengthAdjust="spacingAndGlyphs" font-weight="bold" >avgCpuIntra</text>
<path d="M302 545.5 H918" stroke="#d8d8d8" stroke-width="1"/>
<path d="M302 591.5 H918" stroke="#d8d8d8" stroke-width="1"/>
<path d="M302 636.5 H918" stroke="#d8d8d8" stroke-width="1"/>
<path d="M302 681.5 H918" stroke="#d8d8d8" stroke-width="1"/>
<polyline points="302.8,690.1 308.2,699.0 313.7,699.0 319.1,707.8 324.6,698.6 330.0,689.5 335.5,699.0 340.9,689.5 346.3,699.0 351.8,680.0 357.2,699.0 362.7,699.0 368.1,672.4 373.6,699.0 379.0,707.8 384.4,699.0 389.9,699.0 395.3,699.0 400.8,689.5 406.2,699.0 411.7,699.0 417.1,699.0 422.5,699.0 428.0,699.0 433.4,699.0 438.9,699.0 444.3,689.5 449.8,699.0 455.2,699.0 460.6,699.0 466.1,699.0 471.5,699.0 477.0,699.0 482.4,699.0 487.9,689.5 493.3,699.0 498.7,699.0 504.2,707.8 509.6,699.0 515.1,699.0 520.5,699.0 526.0,699.0 531.4,689.5 536.8,699.0 542.3,699.0 547.7,699.0 553.2,680.0 558.6,699.0 564.1,689.5 569.5,699.0 575.0,699.0 580.4,672.4 585.8,649.0 591.3,689.5 596.7,655.3 602.2,664.2 607.6,699.0 613.1,689.5 618.5,689.5 623.9,689.5 629.4,663.2 634.8,707.8 640.3,707.8 645.7,699.0 651.2,707.8 656.6,699.0 662.0,707.8 667.5,689.5 672.9,699.0 678.4,699.0 683.8,699.0 689.3,699.0 694.7,707.8 700.1,699.0 705.6,699.0 711.0,699.0 716.5,689.5 721.9,689.5 727.4,689.5 732.8,689.5 738.2,699.0 743.7,689.5 749.1,689.5 754.6,699.0 760.0,663.2 765.5,708.7 770.9,699.0 776.3,707.8 781.8,699.0 787.2,699.0 792.7,699.0 798.1,689.5 803.6,699.0 809.0,699.0 814.4,699.0 819.9,699.0 825.3,707.8 830.8,699.0 836.2,699.0 841.7,699.0 847.1,699.0 852.5,699.0 858.0,690.1 863.4,645.4 868.9,699.0 874.3,699.0 879.8,689.5 885.2,699.0 890.6,663.2 896.1,699.6 901.5,689.5 907.0,699.0 912.4,690.1 917.9,681.3" fill="none" stroke="#7cb5ec" stroke-width="2" stroke-linejoin="round"/>
<path d="M302 726.5 H918" stroke="#c0d0e0" stroke-width="1"/>
<path d="M334.5 726 v10" stroke="#c0d0e0" stroke-width="1"/>
<text x="335.0" y="744.5" font-size="11" fill="#414141" text-anchor="middle" >29. Sep</text>
<path d="M399.92 726 v10" stroke="#c0d0e0" stroke-width="1"/>
<text x="400.42" y="744.5" font-size="11" fill="#414141" text-anchor="middle" >12:00</text>
<path d="M465.34000000000003 726 v10" stroke="#c0d0e0" stroke-width="1"/>
<text x="465.84000000000003" y="744.5" font-size="11" fill="#414141" text-anchor="middle" >30. Sep</text>
<path d="M530.76 726 v10" stroke="#c0d0e0" stroke-width="1"/>
<text x="531.26" y="744.5" font-size="11" fill="#414141" text-anchor="middle" >12:00</text>
<path d="M596.1800000000001 726 v10" stroke="#c0d0e0" stroke-width="1"/>
<text x="596.6800000000001" y="744.5" font-size="11" fill="#414141" text-anchor="middle" >1. Oct</text>
<path d="M661.6 726 v10" stroke="#c0d0e0" stroke-width="1"/>
<text x="662.1" y="744.5" font-size="11" fill="#414141" text-anchor="middle" >12:00</text>
<path d="M727.02 726 v10" stroke="#c0d0e0" stroke-width="1"/>
<text x="727.52" y="744.5" font-size="11" fill="#414141" text-anchor="middle" >2. Oct</text>
<path d="M792.44 726 v10" stroke="#c0d0e0" stroke-width="1"/>
<text x="792.94" y="744.5" font-size="11" fill="#414141" text-anchor="middle" >12:00</text>
<path d="M857.86 726 v10" stroke="#c0d0e0" stroke-width="1"/>
<text x="858.36" y="744.5" font-size="11" fill="#414141" text-anchor="middle" >3. Oct</text>
<text x="918.2" y="588.7" font-size="11" fill="#414141" text-anchor="end" >15</text>
<text x="918.2" y="633.7" font-size="11" fill="#414141" text-anchor="end" >10</text>
<text x="918.2" y="678.7" font-size="11" fill="#414141" text-anchor="end" >5</text>
<text x="918.2" y="723.7" font-size="11" fill="#414141" text-anchor="end" >0</text>
<text transform="translate(291.5,635.500) rotate(-90)" text-anchor="middle" font-size="12" fill="#444">Unit</text>
<text transform="translate(927.5,635.500) rotate(90)" text-anchor="middle" font-size="12" fill="#444">ms</text>
<rect x="315" y="773" width="588" height="40" fill="#d9e5f6"/>
<path d="M346.5 774 V813" stroke="#c8d4e6" stroke-width="1"/>
<path d="M471.5 774 V813" stroke="#c8d4e6" stroke-width="1"/>
<path d="M596.5 774 V813" stroke="#c8d4e6" stroke-width="1"/>
<path d="M721.5 774 V813" stroke="#c8d4e6" stroke-width="1"/>
<path d="M846.5 774 V813" stroke="#c8d4e6" stroke-width="1"/>
<path d="M315.7 804.8 C316.5 805.2 318.4 806.3 320.3 806.7 C322.1 807.1 323.8 806.5 325.8 807.0 C327.8 807.5 329.3 809.4 331.3 809.4 C333.3 809.4 334.8 807.9 336.8 807.0 C338.8 806.1 340.4 804.5 342.4 804.5 C344.3 804.5 345.9 807.0 347.9 807.0 C349.9 807.1 351.4 805.7 353.4 804.8 C355.4 803.9 357.1 802.6 358.9 802.1 C360.8 801.6 361.9 801.4 363.5 802.1 C365.2 802.7 366.3 804.8 368.1 805.8 C370.0 806.7 371.8 808.7 373.7 807.6 C375.5 806.5 376.6 799.7 378.3 799.7 C379.9 799.7 380.9 805.8 382.9 807.6 C384.9 809.4 387.3 809.5 389.3 809.4 C391.3 809.3 391.9 807.5 393.9 807.0 C395.9 806.6 398.4 807.5 400.4 807.0 C402.3 806.6 402.9 804.5 404.6 804.5 C406.3 804.5 406.7 806.6 409.6 807.0 C412.5 807.5 417.8 807.9 420.6 807.0 C423.4 806.1 423.5 804.0 425.2 802.1 C427.0 800.2 428.4 796.2 430.2 796.5 C432.0 796.9 433.6 802.0 435.4 803.9 C437.1 805.8 437.1 806.5 440.0 807.0 C442.8 807.6 448.0 807.5 451.0 807.0 C454.0 806.6 451.9 804.9 456.5 804.5 C461.2 804.0 471.5 805.1 476.8 804.5 C482.1 803.8 483.2 801.6 486.0 800.8 C488.8 799.9 490.3 798.8 492.4 799.7 C494.6 800.6 496.1 806.7 498.0 805.8 C499.9 804.8 501.3 793.5 503.1 794.2 C505.0 794.8 506.2 807.1 508.1 809.4 C510.0 811.8 509.8 807.5 513.6 807.0 C517.4 806.6 525.6 808.9 529.3 807.0 C533.0 805.2 532.4 796.5 534.3 796.5 C536.1 796.5 537.5 805.2 539.4 807.0 C541.3 808.9 543.1 807.1 544.9 806.7 C546.8 806.2 547.7 804.4 549.5 804.5 C551.4 804.5 552.9 806.6 555.1 807.0 C557.2 807.5 559.0 808.1 561.5 807.0 C564.0 806.0 566.3 803.4 568.9 801.1 C571.5 798.9 573.7 793.8 575.9 794.3 C578.1 794.8 579.3 807.2 581.2 803.9 C583.1 800.7 584.5 776.7 586.4 776.3 C588.2 775.9 589.6 799.0 591.5 801.7 C593.4 804.5 595.0 792.3 596.9 791.6 C598.8 790.8 600.3 794.9 602.0 797.5 C603.8 800.0 603.9 804.4 606.6 805.8 C609.4 807.1 614.4 805.3 617.4 804.8 C620.3 804.3 621.0 804.5 622.9 803.0 C624.8 801.5 626.0 795.5 627.9 796.5 C629.7 797.6 631.1 806.6 633.0 808.9 C634.9 811.2 636.6 809.8 638.5 809.4 C640.5 809.1 642.2 807.0 644.1 807.0 C645.9 807.0 646.9 809.4 648.7 809.4 C650.5 809.4 652.3 807.0 654.2 807.0 C656.1 807.0 657.4 809.9 659.4 809.4 C661.3 809.0 663.0 804.9 664.9 804.5 C666.8 804.0 666.1 806.6 669.9 807.0 C673.6 807.5 681.7 806.5 685.5 807.0 C689.3 807.5 689.0 809.8 691.0 809.8 C693.0 809.8 693.9 807.6 696.6 807.0 C699.2 806.5 703.1 807.1 705.8 806.7 C708.4 806.2 707.3 804.9 711.3 804.5 C715.3 804.1 723.6 804.0 727.9 804.5 C732.2 804.9 732.6 807.0 735.2 807.0 C737.9 807.0 740.1 805.4 742.6 804.5 C745.1 803.6 747.2 803.5 749.0 802.1 C750.9 800.6 751.4 795.3 753.1 796.5 C754.8 797.8 756.5 807.0 758.3 808.9 C760.0 810.8 761.0 806.9 762.9 807.0 C764.7 807.2 766.8 809.8 768.7 809.8 C770.7 809.8 771.2 807.5 773.9 807.0 C776.7 806.5 781.2 807.5 784.0 807.0 C786.9 806.6 787.6 804.5 789.6 804.5 C791.5 804.5 791.3 806.6 795.1 807.0 C798.9 807.5 807.0 806.5 810.7 807.0 C814.5 807.5 814.1 809.8 815.9 809.8 C817.7 809.8 815.8 807.5 820.9 807.0 C825.9 806.5 839.1 808.1 843.9 807.0 C848.7 806.0 846.2 803.9 847.6 801.1 C849.0 798.4 850.1 790.7 851.6 791.6 C853.1 792.4 854.1 803.0 855.9 805.8 C857.6 808.5 859.2 806.8 861.4 807.0 C863.5 807.3 865.7 807.5 867.8 807.0 C870.0 806.6 871.5 806.4 873.4 804.5 C875.2 802.6 876.3 796.3 878.0 796.5 C879.6 796.8 880.7 804.3 882.6 805.8 C884.4 807.2 886.1 804.2 888.1 804.5 C890.1 804.7 891.8 807.0 893.6 807.0 C895.4 807.0 896.4 805.4 898.2 804.5 C900.0 803.6 902.7 802.5 903.7 802.1" fill="none" stroke="#4f86cf" stroke-width="1"/>
<text x="350" y="808.5" font-size="11" fill="#858585" >29. Sep</text>
<text x="475" y="808.5" font-size="11" fill="#858585" >30. Sep</text>
<text x="600" y="808.5" font-size="11" fill="#858585" >1. Oct</text>
<text x="725" y="808.5" font-size="11" fill="#858585" >2. Oct</text>
<text x="850" y="808.5" font-size="11" fill="#858585" >3. Oct</text>
<path d="M302 773.5 H918 M315.5 773.5 V813 M903.5 773.5 V813" stroke="#a3a3a3" stroke-width="1" fill="none"/>
<rect x="301.5" y="813.5" width="616" height="14" fill="#bfc8d1" stroke="#b0b0b0" stroke-width="1"/>
<rect x="301.5" y="813.5" width="14" height="14" fill="#ebe7e8" stroke="#b0b0b0" stroke-width="1"/>
<rect x="903.5" y="813.5" width="14" height="14" fill="#ebe7e8" stroke="#b0b0b0" stroke-width="1"/>
<path d="M307 820.5 l3 -3 v6z" fill="#333"/>
<path d="M912.5 820.5 l-3 -3 v6z" fill="#333"/>
<path d="M607.5 818 v5 M610.5 818 v5 M613.5 818 v5" stroke="#333" stroke-width="1"/>
<rect x="311.5" y="785.5" width="8" height="15" fill="#f2f2f2" stroke="#a8a8a8" stroke-width="1"/>
<path d="M314.5 789.5 v7 M316.5 789.5 v7" stroke="#a8a8a8" stroke-width="1"/>
<rect x="899.5" y="785.5" width="8" height="15" fill="#f2f2f2" stroke="#a8a8a8" stroke-width="1"/>
<path d="M902.5 789.5 v7 M904.5 789.5 v7" stroke="#a8a8a8" stroke-width="1"/>
<path d="M557 851 h16" stroke="#7cb5ec" stroke-width="2"/><text x="578" y="855.3" font-size="12" fill="#333" textLength="84" lengthAdjust="spacingAndGlyphs" font-weight="bold" >avgLatRWDisk</text>
<polyline points="1117.4,645.6 1122.0,611.0 1127.1,610.4 1132.2,575.8 1137.2,611.3 1142.3,652.5 1147.1,645.3 1152.2,646.8 1157.5,647.1 1162.3,662.9 1167.4,632.9 1172.5,647.2 1177.6,630.3 1182.6,643.0 1187.7,639.5 1192.8,648.3 1197.7,631.2 1202.9,639.8 1208.0,639.5 1213.0,647.5 1218.0,635.7 1223.1,638.6 1228.1,618.0 1233.2,634.8 1238.3,660.8 1243.3,628.1 1248.4,622.1 1253.5,624.9 1258.4,602.2 1263.6,615.1 1268.7,625.0 1273.6,607.1 1278.7,635.7 1283.6,645.2 1288.7,649.7 1293.8,670.9 1298.8,643.4 1303.9,657.3 1309.0,649.4 1314.1,650.7 1319.1,648.7 1324.2,667.7 1329.3,644.3 1334.3,661.0 1339.4,665.2 1344.4,643.7 1349.4,668.1 1354.5,651.5 1359.6,663.3 1364.6,605.9 1369.6,619.6 1374.7,603.1 1379.7,625.5 1384.7,599.7 1389.7,611.3 1394.8,608.8 1399.9,625.9 1404.9,637.7 1410.0,641.7 1415.1,633.1 1420.2,645.2 1425.2,652.9 1430.3,646.8 1435.4,653.8 1440.4,649.1 1445.4,638.3 1450.4,659.2 1455.5,639.8 1460.6,654.7 1465.7,651.3 1470.7,653.5 1475.7,642.4 1480.7,656.1 1485.8,621.2 1491.0,615.1 1496.0,639.2 1501.0,606.9 1506.1,599.9 1511.2,602.7 1516.2,627.6 1521.3,637.6 1526.4,653.2 1531.4,661.4 1536.4,640.7 1541.5,641.7 1546.5,639.8 1551.6,649.7 1556.7,642.4 1561.7,658.9 1566.7,644.9 1571.7,648.5 1576.8,657.8 1581.9,647.7 1587.0,656.3 1592.0,652.9 1597.1,647.2 1602.2,639.8 1607.1,632.5 1612.2,606.3 1617.2,608.2 1622.3,601.2 1627.4,617.7 1632.5,634.8 1637.5,653.5 1642.5,647.2 1647.5,652.5 1652.6,648.1 1657.7,649.4 1662.8,652.9 1667.7,656.3 1672.8,654.0 1677.8,645.2 1682.9,650.6 1688.0,629.1" fill="none" stroke="#7cb5ec" stroke-width="2" stroke-linejoin="round"/>
<path d="M1117 726.5 H1688" stroke="#c0d0e0" stroke-width="1"/>
<path d="M1146.5 726 v10" stroke="#c0d0e0" stroke-width="1"/>
<text x="1147" y="744.5" font-size="11" fill="#414141" text-anchor="middle" >29. Sep</text>
<path d="M1268.5 726 v10" stroke="#c0d0e0" stroke-width="1"/>
<text x="1269" y="744.5" font-size="11" fill="#414141" text-anchor="middle" >30. Sep</text>
<path d="M1389.5 726 v10" stroke="#c0d0e0" stroke-width="1"/>
<text x="1390" y="744.5" font-size="11" fill="#414141" text-anchor="middle" >1. Oct</text>
<path d="M1510.5 726 v10" stroke="#c0d0e0" stroke-width="1"/>
<text x="1511" y="744.5" font-size="11" fill="#414141" text-anchor="middle" >2. Oct</text>
<path d="M1632.5 726 v10" stroke="#c0d0e0" stroke-width="1"/>
<text x="1633" y="744.5" font-size="11" fill="#414141" text-anchor="middle" >3. Oct</text>
<text x="1101.5" y="603.7" font-size="11" fill="#414141" text-anchor="end" >10000 ko/s</text>
<text x="1101.5" y="663.7" font-size="11" fill="#414141" text-anchor="end" >5000 ko/s</text>
<text x="1101.5" y="723.7" font-size="11" fill="#414141" text-anchor="end" >0 ko/s</text>
<text transform="translate(1037.5,635.500) rotate(-90)" text-anchor="middle" font-size="12" fill="#444">Unit</text>
<rect x="1130" y="773" width="543" height="40" fill="#d9e5f6"/>
<path d="M1274.5 774 V813" stroke="#c8d4e6" stroke-width="1"/>
<path d="M1505.5 774 V813" stroke="#c8d4e6" stroke-width="1"/>
<path d="M1134.9 788.6 C1135.9 788.6 1138.5 790.5 1140.4 788.3 C1142.3 786.0 1143.7 776.3 1145.4 776.3 C1147.0 776.3 1148.0 783.5 1149.6 788.3 C1151.2 793.1 1152.4 800.7 1154.2 803.0 C1156.0 805.2 1157.1 801.0 1159.7 800.8 C1162.4 800.5 1166.3 800.5 1168.9 801.5 C1171.5 802.5 1172.3 807.2 1174.1 806.3 C1175.9 805.4 1177.3 797.5 1179.1 796.5 C1180.8 795.6 1181.9 801.3 1183.7 801.1 C1185.4 801.0 1187.0 795.9 1188.8 795.6 C1190.6 795.4 1192.1 799.2 1193.8 799.7 C1195.5 800.2 1196.6 798.0 1198.4 798.4 C1200.2 798.8 1201.8 802.2 1203.6 801.7 C1205.3 801.2 1206.4 796.2 1208.2 795.6 C1209.9 795.0 1211.4 797.8 1213.1 798.4 C1214.9 799.0 1216.1 798.3 1217.7 798.9 C1219.4 799.5 1220.5 802.0 1222.3 801.7 C1224.2 801.4 1226.0 797.8 1227.9 797.1 C1229.7 796.4 1230.9 798.9 1232.5 797.8 C1234.1 796.7 1235.0 790.9 1236.7 791.0 C1238.4 791.1 1240.0 795.6 1241.7 798.4 C1243.4 801.1 1244.5 807.1 1246.3 806.3 C1248.0 805.5 1249.6 796.7 1251.4 794.2 C1253.3 791.6 1254.7 792.5 1256.4 792.3 C1258.1 792.1 1259.4 794.1 1261.0 792.9 C1262.7 791.6 1264.0 786.0 1265.6 785.5 C1267.3 785.0 1268.6 788.6 1270.2 790.1 C1271.9 791.6 1273.1 794.3 1274.8 793.8 C1276.5 793.3 1278.0 786.7 1279.8 787.3 C1281.6 788.0 1283.0 795.0 1285.0 797.5 C1286.9 800.0 1287.8 800.3 1290.5 801.1 C1293.1 802.0 1297.2 802.2 1299.7 802.1 C1302.2 801.9 1302.5 799.9 1304.3 800.2 C1306.1 800.6 1307.7 803.6 1309.8 803.9 C1312.0 804.2 1313.9 802.5 1316.3 802.1 C1318.6 801.7 1320.7 800.5 1322.7 801.7 C1324.8 802.9 1325.9 808.7 1327.7 808.5 C1329.5 808.3 1331.1 801.3 1332.8 800.8 C1334.6 800.3 1335.8 804.5 1337.4 805.8 C1339.1 807.0 1340.3 808.6 1342.0 807.6 C1343.8 806.6 1345.4 800.1 1347.2 800.2 C1349.0 800.4 1350.4 807.9 1352.2 808.5 C1353.9 809.2 1355.1 804.3 1356.8 803.9 C1358.4 803.5 1359.7 809.4 1361.4 806.3 C1363.0 803.2 1364.3 789.4 1366.0 786.8 C1367.6 784.1 1368.9 791.6 1370.6 791.6 C1372.3 791.5 1373.7 786.0 1375.6 786.4 C1377.4 786.8 1378.9 794.0 1380.7 793.8 C1382.5 793.5 1383.9 785.9 1385.7 784.9 C1387.5 784.0 1389.1 788.0 1390.8 788.6 C1392.6 789.2 1393.8 787.2 1395.5 788.3 C1397.1 789.4 1397.9 792.7 1400.0 794.7 C1402.1 796.7 1404.8 799.0 1407.4 799.3 C1410.0 799.6 1411.7 795.9 1414.4 796.5 C1417.0 797.2 1419.5 802.2 1422.1 803.0 C1424.7 803.8 1426.4 801.1 1428.5 801.1 C1430.7 801.2 1432.2 803.3 1434.1 803.4 C1435.9 803.4 1437.0 802.4 1438.7 801.5 C1440.3 800.6 1441.6 797.7 1443.3 798.4 C1445.0 799.1 1446.5 805.3 1448.3 805.4 C1450.0 805.5 1451.3 799.2 1453.0 798.9 C1454.8 798.7 1456.1 803.3 1458.0 803.9 C1459.9 804.5 1461.7 802.5 1463.5 802.4 C1465.4 802.3 1466.6 803.9 1468.1 803.4 C1469.7 802.9 1470.6 799.5 1472.2 799.7 C1473.8 799.9 1475.4 805.7 1477.0 804.5 C1478.6 803.2 1479.5 795.4 1481.0 792.9 C1482.6 790.3 1483.8 789.1 1485.6 790.1 C1487.5 791.1 1489.3 798.9 1491.2 798.4 C1493.0 797.9 1494.0 789.8 1495.8 787.3 C1497.5 784.9 1499.1 784.9 1500.9 784.6 C1502.7 784.2 1504.2 783.8 1505.9 785.5 C1507.6 787.2 1508.7 791.5 1510.5 793.8 C1512.3 796.1 1513.9 796.4 1516.0 798.4 C1518.2 800.4 1520.1 804.7 1522.5 804.8 C1524.8 805.0 1525.8 800.5 1528.9 799.3 C1532.1 798.1 1537.1 797.9 1540.0 798.4 C1542.8 798.9 1542.9 801.8 1544.6 802.1 C1546.2 802.3 1547.5 799.1 1549.2 799.7 C1550.8 800.3 1552.0 805.2 1553.8 805.4 C1555.6 805.6 1557.5 801.5 1559.3 800.8 C1561.1 800.1 1562.2 800.7 1563.9 801.5 C1565.6 802.3 1566.9 805.4 1568.5 805.4 C1570.2 805.4 1571.5 801.7 1573.1 801.5 C1574.8 801.4 1575.7 804.3 1577.7 804.5 C1579.7 804.6 1581.0 803.8 1584.2 802.4 C1587.3 801.1 1592.1 799.9 1595.2 797.1 C1598.4 794.3 1599.5 788.7 1601.7 787.0 C1603.8 785.2 1605.4 787.6 1607.2 787.3 C1609.0 787.1 1610.0 784.3 1611.8 785.5 C1613.6 786.7 1614.8 790.6 1617.3 793.8 C1619.8 797.0 1623.3 802.0 1625.6 803.4 C1627.9 804.7 1628.5 801.1 1630.2 801.1 C1631.9 801.1 1632.8 803.3 1634.8 803.4 C1636.8 803.4 1638.8 801.6 1641.3 801.5 C1643.7 801.5 1646.0 802.5 1648.6 803.0 C1651.3 803.5 1653.8 804.5 1656.0 804.5 C1658.1 804.5 1659.1 803.7 1660.6 803.0 C1662.1 802.3 1662.8 800.9 1664.3 800.8 C1665.8 800.7 1667.2 802.5 1668.9 802.4 C1670.5 802.3 1672.7 800.6 1673.5 800.2" fill="none" stroke="#4f86cf" stroke-width="1"/>
<text x="1278.5" y="808.5" font-size="11" fill="#858585" >30. Sep</text>
<text x="1509.5" y="808.5" font-size="11" fill="#858585" >2. Oct</text>
<path d="M1117 773.5 H1688 M1130.5 773.5 V813 M1673.5 773.5 V813" stroke="#a3a3a3" stroke-width="1" fill="none"/>
<rect x="1116.5" y="813.5" width="571" height="14" fill="#bfc8d1" stroke="#b0b0b0" stroke-width="1"/>
<rect x="1116.5" y="813.5" width="14" height="14" fill="#ebe7e8" stroke="#b0b0b0" stroke-width="1"/>
<rect x="1673.5" y="813.5" width="14" height="14" fill="#ebe7e8" stroke="#b0b0b0" stroke-width="1"/>
<path d="M1122 820.5 l3 -3 v6z" fill="#333"/>
<path d="M1682.5 820.5 l-3 -3 v6z" fill="#333"/>
<path d="M1400.0 818 v5 M1403.0 818 v5 M1406.0 818 v5" stroke="#333" stroke-width="1"/>
<rect x="1126.5" y="785.5" width="8" height="15" fill="#f2f2f2" stroke="#a8a8a8" stroke-width="1"/>
<path d="M1129.5 789.5 v7 M1131.5 789.5 v7" stroke="#a8a8a8" stroke-width="1"/>
<rect x="1669.5" y="785.5" width="8" height="15" fill="#f2f2f2" stroke="#a8a8a8" stroke-width="1"/>
<path d="M1672.5 789.5 v7 M1674.5 789.5 v7" stroke="#a8a8a8" stroke-width="1"/>
<path d="M1320 851 h16" stroke="#7cb5ec" stroke-width="2"/><text x="1341" y="855.3" font-size="12" fill="#333" textLength="50" lengthAdjust="spacingAndGlyphs" font-weight="bold" >avgIoNet</text>
</svg>
<svg width="1738" height="540" style="left:0;top:0" font-family="Liberation Sans, sans-serif">
<text x="302" y="526" font-size="13" fill="#444" textLength="31" lengthAdjust="spacingAndGlyphs" >Zoom</text>
<rect x="338" y="511" width="32" height="22" fill="#f7f7f7"/>
<text x="354" y="525.2" font-size="12" fill="#c9c9c9" text-anchor="middle" >1m</text>
<rect x="375" y="511" width="32" height="22" fill="#f7f7f7"/>
<text x="391" y="525.2" font-size="12" fill="#c9c9c9" text-anchor="middle" >3m</text>
<rect x="412" y="511" width="32" height="22" fill="#f7f7f7"/>
<text x="428" y="525.2" font-size="12" fill="#c9c9c9" text-anchor="middle" >6m</text>
<rect x="449" y="511" width="32" height="22" fill="#f7f7f7"/>
<text x="465" y="525.2" font-size="12" fill="#c9c9c9" text-anchor="middle" >YTD</text>
<rect x="486" y="511" width="32" height="22" fill="#f7f7f7"/>
<text x="502" y="525.2" font-size="12" fill="#c9c9c9" text-anchor="middle" font-weight="bold" >1y</text>
<rect x="523" y="511" width="32" height="22" fill="#f7f7f7"/>
<text x="539" y="525.2" font-size="12" fill="#c9c9c9" text-anchor="middle" >All</text>
<text x="643" y="525.4" font-size="13" fill="#555" textLength="29" lengthAdjust="spacingAndGlyphs" >From</text>
<rect x="680.5" y="511.5" width="94" height="21" fill="#fff" stroke="#a0a0a0" stroke-width="1"/>
<text x="727.5" y="525.2" font-size="12" fill="#444" textLength="77.5" lengthAdjust="spacingAndGlyphs" text-anchor="middle" >Sep 28, 2016</text>
<text x="786.5" y="525.4" font-size="13" fill="#555" textLength="14.5" lengthAdjust="spacingAndGlyphs" >To</text>
<rect x="808.5" y="511.5" width="94" height="21" fill="#fff" stroke="#a0a0a0" stroke-width="1"/>
<text x="855.5" y="525.2" font-size="12" fill="#444" textLength="69" lengthAdjust="spacingAndGlyphs" text-anchor="middle" >Oct 3, 2016</text>
<text x="1117" y="526" font-size="13" fill="#444" textLength="31" lengthAdjust="spacingAndGlyphs" >Zoom</text>
<rect x="1153" y="511" width="32" height="22" fill="#f7f7f7"/>
<text x="1169" y="525.2" font-size="12" fill="#c9c9c9" text-anchor="middle" >1m</text>
<rect x="1190" y="511" width="32" height="22" fill="#f7f7f7"/>
<text x="1206" y="525.2" font-size="12" fill="#c9c9c9" text-anchor="middle" >3m</text>
<rect x="1227" y="511" width="32" height="22" fill="#f7f7f7"/>
<text x="1243" y="525.2" font-size="12" fill="#c9c9c9" text-anchor="middle" >6m</text>
<rect x="1264" y="511" width="32" height="22" fill="#f7f7f7"/>
<text x="1280" y="525.2" font-size="12" fill="#c9c9c9" text-anchor="middle" >YTD</text>
<rect x="1301" y="511" width="32" height="22" fill="#f7f7f7"/>
<text x="1317" y="525.2" font-size="12" fill="#c9c9c9" text-anchor="middle" font-weight="bold" >1y</text>
<rect x="1338" y="511" width="32" height="22" fill="#f7f7f7"/>
<text x="1354" y="525.2" font-size="12" fill="#c9c9c9" text-anchor="middle" >All</text>
<text x="1389.5" y="525.4" font-size="13" fill="#555" textLength="29" lengthAdjust="spacingAndGlyphs" >From</text>
<rect x="1426.5" y="511.5" width="94" height="21" fill="#fff" stroke="#a0a0a0" stroke-width="1"/>
<text x="1473.5" y="525.2" font-size="12" fill="#444" textLength="77.5" lengthAdjust="spacingAndGlyphs" text-anchor="middle" >Sep 28, 2016</text>
<text x="1532.5" y="525.4" font-size="13" fill="#555" textLength="14.5" lengthAdjust="spacingAndGlyphs" >To</text>
<rect x="1554.5" y="511.5" width="94" height="21" fill="#fff" stroke="#a0a0a0" stroke-width="1"/>
<text x="1601.5" y="525.2" font-size="12" fill="#444" textLength="69" lengthAdjust="spacingAndGlyphs" text-anchor="middle" >Oct 3, 2016</text>
</svg>
<div style="position:absolute;left:382px;top:490px;width:220px;height:210px;background:#fff;border:1px solid rgba(0,0,0,.27);border-top-color:rgba(0,0,0,.06);border-radius:3px;box-shadow:0 6px 12px rgba(0,0,0,.2)"></div>
<div style="position:absolute;left:383px;top:655px;width:201px;height:20px;background:#ececec"></div>
<div style="position:absolute;left:584px;top:495px;width:17px;height:200px;background:#f1f1f1"></div>
<div style="position:absolute;left:586px;top:540px;width:13px;height:138px;background:#c1c1c1"></div>
<svg width="230" height="220" style="left:383px;top:490px" font-family="Liberation Sans, sans-serif"><text x="20" y="18.5" font-size="10" fill="#3a3a3a" textLength="52.5" lengthAdjust="spacingAndGlyphs" >ioDisk (min)</text><text x="20" y="38.5" font-size="10" fill="#3a3a3a" textLength="85.5" lengthAdjust="spacingAndGlyphs" >read latency (max)</text><text x="20" y="58.5" font-size="10" fill="#3a3a3a" textLength="83.5" lengthAdjust="spacingAndGlyphs" >read latency (avg)</text><text x="20" y="78.5" font-size="10" fill="#3a3a3a" textLength="82" lengthAdjust="spacingAndGlyphs" >read latency (min)</text><text x="20" y="98.5" font-size="10" fill="#3a3a3a" textLength="85.5" lengthAdjust="spacingAndGlyphs" >write latency (max)</text><text x="20" y="118.5" font-size="10" fill="#3a3a3a" textLength="83.5" lengthAdjust="spacingAndGlyphs" >write latency (avg)</text><text x="20" y="138.5" font-size="10" fill="#3a3a3a" textLength="82.5" lengthAdjust="spacingAndGlyphs" >write latency (min)</text><text x="20" y="158.5" font-size="10" fill="#3a3a3a" textLength="84.5" lengthAdjust="spacingAndGlyphs" >total latency (max)</text><text x="20" y="178.5" font-size="10" fill="#3a3a3a" textLength="82.5" lengthAdjust="spacingAndGlyphs" >total latency (avg)</text><text x="20" y="198.5" font-size="10" fill="#3a3a3a" textLength="81.5" lengthAdjust="spacingAndGlyphs" >total latency (min)</text><path d="M205.400 16 l4 -4.500 l4 4.500z" fill="#505050"/><path d="M205.400 194 l4 4.500 l4 -4.500z" fill="#a3a3a3"/></svg>
<div style="position:absolute;left:1701px;top:225px;width:35px;height:35px;background:#111;border-radius:5px 0 0 5px"></div>
<svg width="36" height="36" style="left:1701px;top:225px"><circle cx="13.1" cy="16.7" r="5.6" fill="#fff"/><g stroke="#fff" stroke-width="3"><path d="M13.1 16.7 L20.45 18.19"/><path d="M13.1 16.7 L17.24 22.95"/><path d="M13.1 16.7 L11.61 24.05"/><path d="M13.1 16.7 L6.85 20.84"/><path d="M13.1 16.7 L5.75 15.21"/><path d="M13.1 16.7 L8.96 10.45"/><path d="M13.1 16.7 L14.59 9.35"/><path d="M13.1 16.7 L19.35 12.56"/></g><circle cx="13.1" cy="16.7" r="2.7" fill="#111"/><circle cx="23.2" cy="10.9" r="3.1" fill="#fff"/><g stroke="#fff" stroke-width="2"><path d="M23.2 10.9 L27.61 11.79"/><path d="M23.2 10.9 L24.63 15.17"/><path d="M23.2 10.9 L20.22 14.27"/><path d="M23.2 10.9 L18.79 10.01"/><path d="M23.2 10.9 L21.77 6.63"/><path d="M23.2 10.9 L26.18 7.53"/></g><circle cx="23.2" cy="10.9" r="1.2" fill="#111"/><circle cx="23.2" cy="22.5" r="3.1" fill="#fff"/><g stroke="#fff" stroke-width="2"><path d="M23.2 22.5 L27.61 23.39"/><path d="M23.2 22.5 L24.63 26.77"/><path d="M23.2 22.5 L20.22 25.87"/><path d="M23.2 22.5 L18.79 21.61"/><path d="M23.2 22.5 L21.77 18.23"/><path d="M23.2 22.5 L26.18 19.13"/></g><circle cx="23.2" cy="22.5" r="1.2" fill="#111"/></svg>
<svg width="400" height="60" style="left:680px;top:922px" font-family="Liberation Sans, sans-serif"><text x="189" y="17" font-size="12" fill="#8a8a8a" textLength="43" lengthAdjust="spacingAndGlyphs" text-anchor="middle" >Contact</text><text x="189" y="34" font-size="12" fill="#fff" textLength="89" lengthAdjust="spacingAndGlyphs" text-anchor="middle" >2016 © EasyVirt</text><text x="189" y="51" font-size="12" fill="#fff" textLength="193" lengthAdjust="spacingAndGlyphs" text-anchor="middle" >Release: 3.1.1 Build: 1492_160928</text></svg>
<!--OVERLAYS-END-->
<!-- window frame -->
<div style="position:absolute;left:0;top:0;width:1738px;height:1px;background:#1670c4"></div>
<div style="position:absolute;left:0;top:0;width:1px;height:1026px;background:#1670c4"></div>
<div style="position:absolute;left:1737px;top:0;width:1px;height:1026px;background:#1670c4"></div>
<div style="position:absolute;left:0;top:1025px;width:1738px;height:1px;background:#1670c4"></div>
</body>
</html>
